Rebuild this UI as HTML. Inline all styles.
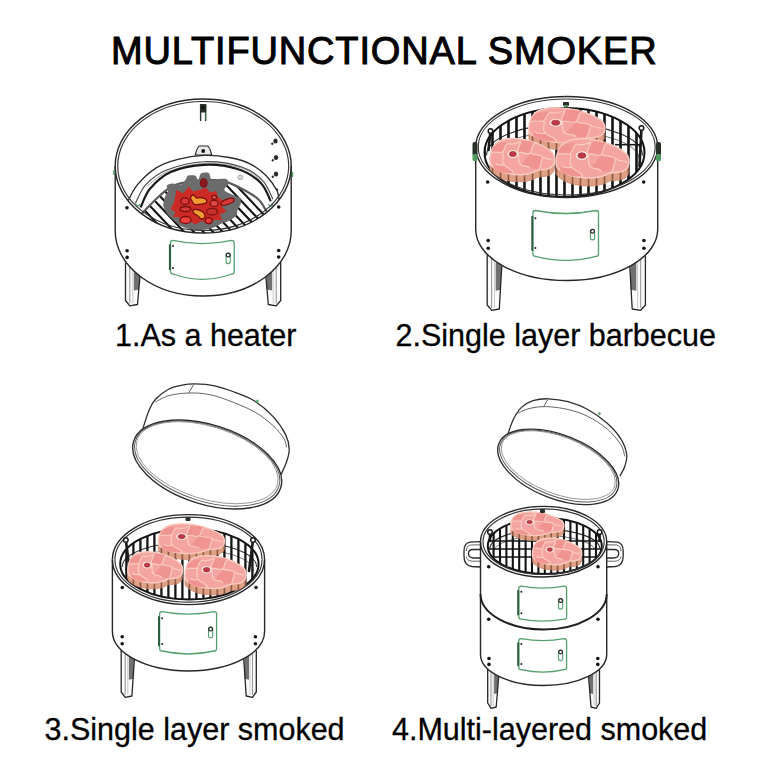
<!DOCTYPE html>
<html><head><meta charset="utf-8">
<style>
html,body{margin:0;padding:0;background:#fff;}
body{width:768px;height:768px;position:relative;overflow:hidden;font-family:"Liberation Sans",sans-serif;color:#000;}
.t{position:absolute;white-space:nowrap;line-height:1;}
#title{left:111px;top:32px;font-size:38px;letter-spacing:0.85px;-webkit-text-stroke:1px #000;}
.lab{font-size:30.5px;-webkit-text-stroke:0.3px #000;}
svg{position:absolute;left:0;top:0;}
</style></head><body>
<svg width="768" height="768" viewBox="0 0 768 768">
<path d="M125.5 262.5 L125.5 300.5 L129.8 305.8 L137.5 304.5 L140.0 275.8 Z" fill="#fbfbfb" stroke="none"/><path d="M133.9 272.8 L133.9 290.6 L139.1 289.6 L139.4 272.8 Z" fill="#707070"/><line x1="129.8" y1="264.5" x2="129.8" y2="303.5" stroke="#9a9a9a" stroke-width="1.1"/><line x1="132.8" y1="266.5" x2="132.8" y2="303.5" stroke="#c4c4c4" stroke-width="0.9"/><path d="M125.5 262.5 L125.5 300.5 L129.8 305.8 L137.5 304.5 L140.0 275.8" fill="none" stroke="#262626" stroke-width="1.3" stroke-linejoin="round"/><path d="M280.7 261.7 L280.7 300.5 L276.2 305.8 L268.3 304.5 L265.8 275.8 Z" fill="#fbfbfb" stroke="none"/><path d="M272.1 272.8 L272.1 290.6 L266.7 289.6 L266.4 272.8 Z" fill="#707070"/><line x1="276.2" y1="263.7" x2="276.2" y2="303.5" stroke="#9a9a9a" stroke-width="1.1"/><line x1="273.2" y1="265.7" x2="273.2" y2="303.5" stroke="#c4c4c4" stroke-width="0.9"/><path d="M280.7 261.7 L280.7 300.5 L276.2 305.8 L268.3 304.5 L265.8 275.8" fill="none" stroke="#262626" stroke-width="1.3" stroke-linejoin="round"/><path d="M115.2 166.0 A88.0 67.0 0 0 1 291.2 166.0" fill="none" stroke="#262626" stroke-width="1.4"/><path d="M117.7 166.0 A85.5 64.5 0 0 1 288.7 166.0" fill="none" stroke="#333" stroke-width="1.15"/><path d="M200.6 121 L200.6 105 L205.6 105 L205.6 121" fill="none" stroke="#333" stroke-width="1.4"/><path d="M205.9 106 L205.9 120" stroke="#5a9a6a" stroke-width="0.8"/><rect x="200" y="104" width="6.2" height="8.5" rx="1" fill="#2a2e2a"/><circle cx="203" cy="107.5" r="1.6" fill="#111"/><ellipse cx="275.5" cy="141" rx="2.2" ry="2.6" fill="#2a2a2a"/><path d="M273.0 143 L271.5 144.5" stroke="#2a2a2a" stroke-width="2"/><ellipse cx="276" cy="157.5" rx="2.2" ry="2.6" fill="#2a2a2a"/><path d="M273.5 159.5 L272 161.0" stroke="#2a2a2a" stroke-width="2"/><ellipse cx="276" cy="174" rx="2.2" ry="2.6" fill="#2a2a2a"/><path d="M273.5 176 L272 177.5" stroke="#2a2a2a" stroke-width="2"/><ellipse cx="276" cy="190.5" rx="2.2" ry="2.6" fill="#2a2a2a"/><path d="M273.5 192.5 L272 194.0" stroke="#2a2a2a" stroke-width="2"/><path d="M195.2 155 C196.5 150 197.5 146.5 199.5 146 L207.5 146 C209.5 146.5 210.5 150 211.7 155 Z" fill="#e8e8e8" stroke="#2a2a2a" stroke-width="1.2"/><circle cx="203.2" cy="151" r="1.9" fill="#111"/><path d="M128.0 201.0 C129.6 198.3 132.8 190.1 137.5 184.6 C142.2 179.1 149.7 172.1 156.2 167.9 C162.8 163.7 169.0 161.7 177.0 159.6 C185.0 157.5 195.5 155.8 204.2 155.4 C212.9 155.1 221.6 156.1 229.2 157.5 C236.8 158.9 243.8 160.6 250.0 163.8 C256.2 166.9 262.2 171.7 266.7 176.2 C271.2 180.8 274.9 186.7 277.0 190.8 C279.1 194.9 278.8 199.3 279.2 201.0 L204 240 Z" fill="#fff" stroke="none"/><path d="M128.0 201.0 C129.6 198.3 132.8 190.1 137.5 184.6 C142.2 179.1 149.7 172.1 156.2 167.9 C162.8 163.7 169.0 161.7 177.0 159.6 C185.0 157.5 195.5 155.8 204.2 155.4 C212.9 155.1 221.6 156.1 229.2 157.5 C236.8 158.9 243.8 160.6 250.0 163.8 C256.2 166.9 262.2 171.7 266.7 176.2 C271.2 180.8 274.9 186.7 277.0 190.8 C279.1 194.9 278.8 199.3 279.2 201.0" fill="none" stroke="#2a2a2a" stroke-width="1.3"/><path d="M135.4 203.3 C137.1 200.2 140.6 190.2 145.8 184.6 C151.0 179.0 157.0 173.8 166.7 170.0 C176.4 166.2 191.7 162.2 204.2 161.7 C216.7 161.2 232.0 163.8 241.7 166.9 C251.4 170.0 257.3 175.0 262.5 180.4 C267.7 185.8 271.2 196.1 272.9 199.2" fill="none" stroke="#444" stroke-width="1.1"/><path d="M147.0 186.2 C150.5 183.8 158.2 175.4 167.9 171.6 C177.6 167.8 192.9 163.8 205.4 163.3 C217.9 162.8 233.2 165.4 242.9 168.5 C252.6 171.6 260.2 179.8 263.7 182.0" fill="none" stroke="#888" stroke-width="0.8"/><path d="M140.6 207.5 C142.2 204.4 145.0 194.7 150.0 188.8 C155.0 182.8 161.8 176.0 170.8 172.0 C179.8 168.0 193.1 165.3 204.2 164.8 C215.3 164.3 228.1 166.1 237.5 169.0 C246.9 171.9 254.8 177.1 260.4 182.5 C265.9 187.9 269.1 198.1 270.8 201.2" fill="none" stroke="#1a1a1a" stroke-width="2.2"/><clipPath id="c1"><path d="M141.7 213.8 C144.5 211.0 152.8 201.8 158.3 197.0 C163.9 192.2 167.4 187.8 175.0 185.0 C182.6 182.2 195.7 180.6 204.0 180.0 C212.3 179.4 218.7 180.1 225.0 181.6 C231.3 183.1 236.1 185.8 241.7 188.8 C247.2 191.7 254.1 195.4 258.3 199.2 C262.5 203.0 265.3 209.6 266.7 211.7 L266.7 240 L141.7 240 Z"/></clipPath><g clip-path="url(#c1)"><line x1="48.8" y1="170" x2="128.8" y2="254.5" stroke="#111" stroke-width="2.1"/><line x1="58.4" y1="170" x2="138.4" y2="254.5" stroke="#111" stroke-width="2.1"/><line x1="68.0" y1="170" x2="148.0" y2="254.5" stroke="#111" stroke-width="2.1"/><line x1="77.6" y1="170" x2="157.6" y2="254.5" stroke="#111" stroke-width="2.1"/><line x1="87.2" y1="170" x2="167.2" y2="254.5" stroke="#111" stroke-width="2.1"/><line x1="96.8" y1="170" x2="176.8" y2="254.5" stroke="#111" stroke-width="2.1"/><line x1="106.4" y1="170" x2="186.4" y2="254.5" stroke="#111" stroke-width="2.1"/><line x1="116.0" y1="170" x2="196.0" y2="254.5" stroke="#111" stroke-width="2.1"/><line x1="125.6" y1="170" x2="205.6" y2="254.5" stroke="#111" stroke-width="2.1"/><line x1="135.2" y1="170" x2="215.2" y2="254.5" stroke="#111" stroke-width="2.1"/><line x1="144.8" y1="170" x2="224.8" y2="254.5" stroke="#111" stroke-width="2.1"/><line x1="154.4" y1="170" x2="234.4" y2="254.5" stroke="#111" stroke-width="2.1"/><line x1="164.0" y1="170" x2="244.0" y2="254.5" stroke="#111" stroke-width="2.1"/><line x1="173.6" y1="170" x2="253.6" y2="254.5" stroke="#111" stroke-width="2.1"/><line x1="183.2" y1="170" x2="263.2" y2="254.5" stroke="#111" stroke-width="2.1"/><line x1="192.8" y1="170" x2="272.8" y2="254.5" stroke="#111" stroke-width="2.1"/><line x1="202.4" y1="170" x2="282.4" y2="254.5" stroke="#111" stroke-width="2.1"/><line x1="212.0" y1="170" x2="292.0" y2="254.5" stroke="#111" stroke-width="2.1"/><line x1="221.6" y1="170" x2="301.6" y2="254.5" stroke="#111" stroke-width="2.1"/><line x1="231.2" y1="170" x2="311.2" y2="254.5" stroke="#111" stroke-width="2.1"/><line x1="240.8" y1="170" x2="320.8" y2="254.5" stroke="#111" stroke-width="2.1"/><line x1="250.4" y1="170" x2="330.4" y2="254.5" stroke="#111" stroke-width="2.1"/><line x1="260.0" y1="170" x2="340.0" y2="254.5" stroke="#111" stroke-width="2.1"/><line x1="269.6" y1="170" x2="349.6" y2="254.5" stroke="#111" stroke-width="2.1"/><line x1="279.2" y1="170" x2="359.2" y2="254.5" stroke="#111" stroke-width="2.1"/><line x1="288.8" y1="170" x2="368.8" y2="254.5" stroke="#111" stroke-width="2.1"/></g><path d="M141.7 213.8 C144.5 211.0 152.8 201.8 158.3 197.0 C163.9 192.2 167.4 187.8 175.0 185.0 C182.6 182.2 195.7 180.6 204.0 180.0 C212.3 179.4 218.7 180.1 225.0 181.6 C231.3 183.1 236.1 185.8 241.7 188.8 C247.2 191.7 254.1 195.4 258.3 199.2 C262.5 203.0 265.3 209.6 266.7 211.7" fill="none" stroke="#5a5a5a" stroke-width="2.2"/><circle cx="240.3" cy="177.4" r="2.4" fill="#d8d8d8" stroke="#9a9a9a" stroke-width="0.8"/><path d="M135.5 203 C136 206 139 207 140 204" fill="none" stroke="#48a060" stroke-width="1.1"/><path d="M268.5 204 C269 207 272 207 273 204" fill="none" stroke="#48a060" stroke-width="1.1"/><path d="M163.3 204.5 C163.4 202.9 164.3 198.7 165.0 196.8 C165.7 194.9 168.1 191.6 168.3 190.1 C168.5 188.6 166.1 186.6 166.6 185.7 C167.1 184.8 170.3 183.6 172.2 183.5 C174.1 183.4 179.1 185.3 181.0 184.6 C182.9 183.9 185.7 179.2 186.6 178.0 C187.5 176.8 186.5 176.0 187.7 175.7 C188.9 175.4 194.0 175.1 195.4 175.7 C196.8 176.3 197.5 180.5 198.2 180.2 C198.9 179.9 199.6 174.5 201.0 173.5 C202.4 172.5 207.3 172.1 208.7 173.0 C210.1 173.9 210.2 179.4 211.5 180.2 C212.8 181.0 216.7 179.2 218.7 179.0 C220.7 178.8 225.1 178.4 226.4 179.0 C227.7 179.6 228.9 182.0 228.6 183.5 C228.3 185.0 223.7 188.6 224.2 190.1 C224.7 191.6 229.9 193.6 232.0 194.6 C234.1 195.6 238.5 196.7 239.7 197.9 C240.9 199.1 241.1 201.8 240.8 203.4 C240.5 205.0 238.1 208.4 237.5 210.0 C236.9 211.6 237.6 214.1 236.4 215.6 C235.2 217.1 230.5 220.1 228.6 221.1 C226.7 222.1 224.1 222.4 222.0 223.3 C219.9 224.2 215.8 226.9 213.1 227.8 C210.4 228.7 204.9 229.8 202.0 230.0 C199.1 230.2 193.7 229.8 191.0 229.4 C188.3 229.0 184.3 227.8 182.1 226.7 C179.9 225.6 176.3 222.7 174.4 221.1 C172.5 219.5 169.0 216.1 167.7 214.5 C166.4 212.9 165.0 210.3 164.4 209.0 C163.8 207.7 163.2 206.1 163.3 204.5 Z" fill="#6c6c6c"/><path d="M171.0 209.0 C170.9 208.4 174.1 202.1 174.4 201.2 C174.7 200.3 176.2 190.5 176.6 190.1 C177.0 189.7 182.6 193.7 183.2 193.5 C183.8 193.3 188.3 186.9 188.8 186.8 C189.3 186.7 192.7 191.0 193.2 191.2 C193.7 191.4 198.0 190.3 198.7 190.1 C199.4 189.9 205.9 187.9 206.5 188.0 C207.1 188.1 209.3 192.1 209.8 192.3 C210.3 192.5 216.0 191.0 216.4 191.2 C216.8 191.4 217.2 196.3 217.6 196.8 C218.0 197.3 224.0 200.7 224.2 201.2 C224.4 201.7 221.9 206.2 222.0 206.7 C222.1 207.2 226.5 210.8 226.4 211.2 C226.3 211.6 220.0 214.1 219.8 214.5 C219.6 214.9 222.3 219.7 222.0 220.0 C221.7 220.3 214.9 219.8 214.2 220.0 C213.5 220.2 209.3 224.3 208.7 224.4 C208.1 224.5 202.7 221.1 202.0 221.1 C201.3 221.1 196.1 224.4 195.4 224.4 C194.7 224.4 189.6 221.2 188.8 221.1 C188.0 221.0 180.3 223.5 179.9 223.3 C179.5 223.1 181.3 218.1 181.0 217.8 C180.7 217.5 173.6 217.0 173.3 216.7 C173.0 216.4 175.6 212.7 175.5 212.3 C175.4 211.9 171.1 209.6 171.0 209.0 Z" fill="#cc2a24"/><g stroke="#7a1010" stroke-width="1.3"><ellipse cx="203.7" cy="183" rx="3.3" ry="4.2" fill="#8a1820"/><path d="M190.5 197.5 C190.8 196.5 192.5 194.9 193.5 195.0 C194.5 195.1 195.4 197.6 196.5 198.0 C197.6 198.4 198.5 197.3 200.0 197.5 C201.5 197.7 204.4 198.2 205.5 199.0 C206.6 199.8 207.5 201.6 206.5 202.5 C205.5 203.4 201.6 204.2 199.5 204.5 C197.4 204.8 195.2 204.6 194.0 204.0 C192.8 203.4 192.6 202.1 192.0 201.0 C191.4 199.9 190.2 198.5 190.5 197.5 Z" fill="#f09a30"/><path d="M193.0 210.5 C193.5 209.8 195.3 209.2 197.0 209.5 C198.7 209.8 201.7 210.8 203.0 212.0 C204.3 213.2 205.2 215.3 205.0 216.5 C204.8 217.7 202.7 219.1 201.5 219.0 C200.3 218.9 199.2 216.9 198.0 216.0 C196.8 215.1 194.8 214.4 194.0 213.5 C193.2 212.6 192.5 211.2 193.0 210.5 Z" fill="#f09a30"/><ellipse cx="184.9" cy="201.2" rx="4.2" ry="3.3" fill="#d83838"/><ellipse cx="185.5" cy="209" rx="5.3" ry="2.5" fill="#d83838"/><ellipse cx="185.5" cy="220" rx="5.5" ry="3.5" fill="#f04040"/><ellipse cx="208.7" cy="220.6" rx="3.5" ry="3" fill="#e83a3a"/><ellipse cx="212" cy="211.7" rx="5.5" ry="3.3" fill="#c83030"/><ellipse cx="214.2" cy="203.4" rx="4" ry="3" fill="#e04848"/><ellipse cx="214.2" cy="197.3" rx="2.5" ry="2" fill="#e05050"/><ellipse cx="227.5" cy="201.8" rx="7" ry="2.6" transform="rotate(-20 227.5 201.8)" fill="#d83838"/></g><path d="M115.2 166.0 A88.0 67.0 0 0 0 291.2 166.0 L291.2 231.0 A88.0 65 0 0 1 115.2 231.0 Z" fill="#fff" stroke="none"/><path d="M115.2 166.0 L115.2 231.0 A88.0 65 0 0 0 291.2 231.0 L291.2 166.0" fill="none" stroke="#262626" stroke-width="1.4"/><path d="M115.2 166.0 A88.0 67.0 0 0 0 291.2 166.0" fill="none" stroke="#262626" stroke-width="1.4"/><path d="M117.7 166.0 A85.5 64.5 0 0 0 288.7 166.0" fill="none" stroke="#333" stroke-width="1.15"/><path d="M114 170 L114 175" stroke="#48a060" stroke-width="1.5"/><path d="M292.5 172 L292.5 177" stroke="#48a060" stroke-width="1.5"/><path d="M170.5 242.8 Q170.5 240.3 173.0 240.3 Q202.35 246.9 231.7 240.3 Q234.2 240.3 234.2 242.8 L234.2 271.5 Q234.2 274.0 231.7 274.0 Q202.35 284.6 173.0 274.0 Q170.5 274.0 170.5 271.5 Z" fill="none" stroke="#55a06c" stroke-width="1.3"/><line x1="169.9" y1="244.3" x2="169.9" y2="270.0" stroke="#2a5e3c" stroke-width="2"/><circle cx="173.0" cy="246.0" r="1" fill="#222"/><circle cx="173.0" cy="267.9" r="1" fill="#222"/><rect x="226.1" y="253.15000000000003" width="4.2" height="10.5" rx="2.1" fill="none" stroke="#55a06c" stroke-width="1.1"/><circle cx="228.2" cy="254.95000000000005" r="1.9" fill="none" stroke="#2a2a2a" stroke-width="1.2"/><circle cx="127.0" cy="207.7" r="1.8" fill="#141414"/><circle cx="127.1" cy="250.8" r="1.8" fill="#141414"/><circle cx="127.1" cy="257.4" r="1.8" fill="#141414"/><circle cx="278.7" cy="207.0" r="1.8" fill="#141414"/><circle cx="278.7" cy="250.5" r="1.8" fill="#141414"/><circle cx="278.7" cy="257.0" r="1.8" fill="#141414"/><path d="M487.2 254.6 L487.2 305.0 L491.6 310.3 L499.3 309.0 L501.8 265.9 Z" fill="#fbfbfb" stroke="none"/><path d="M495.7 262.9 L495.7 290.7 L500.9 289.7 L501.2 262.9 Z" fill="#707070"/><line x1="491.6" y1="256.6" x2="491.6" y2="308.0" stroke="#9a9a9a" stroke-width="1.1"/><line x1="494.5" y1="258.6" x2="494.5" y2="308.0" stroke="#c4c4c4" stroke-width="0.9"/><path d="M487.2 254.6 L487.2 305.0 L491.6 310.3 L499.3 309.0 L501.8 265.9" fill="none" stroke="#262626" stroke-width="1.3" stroke-linejoin="round"/><path d="M645.4 255.6 L645.4 305.0 L640.7 310.3 L632.2 309.0 L629.8 266.3 Z" fill="#fbfbfb" stroke="none"/><path d="M636.3 263.3 L636.3 290.7 L630.6 289.7 L630.4 263.3 Z" fill="#707070"/><line x1="640.7" y1="257.6" x2="640.7" y2="308.0" stroke="#9a9a9a" stroke-width="1.1"/><line x1="637.6" y1="259.6" x2="637.6" y2="308.0" stroke="#c4c4c4" stroke-width="0.9"/><path d="M645.4 255.6 L645.4 305.0 L640.7 310.3 L632.2 309.0 L629.8 266.3" fill="none" stroke="#262626" stroke-width="1.3" stroke-linejoin="round"/><path d="M475.7 147.0 A91.0 50.5 0 0 1 657.7 147.0" fill="none" stroke="#262626" stroke-width="1.4"/><path d="M478.2 147.0 A88.5 48.0 0 0 1 655.2 147.0" fill="none" stroke="#333" stroke-width="1.15"/><clipPath id="c2"><ellipse cx="564.5" cy="152.5" rx="80" ry="44.5"/></clipPath><g clip-path="url(#c2)"><path d="M486.5 155.5 A78 31.1 0 0 1 642.5 155.5" fill="none" stroke="#333" stroke-width="1.1"/><path d="M489.5 159.5 A75 27.6 0 0 1 639.5 159.5" fill="none" stroke="#666" stroke-width="0.9"/><line x1="484.5" y1="108.0" x2="484.5" y2="197.0" stroke="#141414" stroke-width="2.6"/><line x1="492.5" y1="108.0" x2="492.5" y2="197.0" stroke="#141414" stroke-width="2.6"/><line x1="500.5" y1="108.0" x2="500.5" y2="197.0" stroke="#141414" stroke-width="2.6"/><line x1="508.5" y1="108.0" x2="508.5" y2="197.0" stroke="#141414" stroke-width="2.6"/><line x1="516.5" y1="108.0" x2="516.5" y2="197.0" stroke="#141414" stroke-width="2.6"/><line x1="524.5" y1="108.0" x2="524.5" y2="197.0" stroke="#141414" stroke-width="2.6"/><line x1="532.5" y1="108.0" x2="532.5" y2="197.0" stroke="#141414" stroke-width="2.6"/><line x1="540.5" y1="108.0" x2="540.5" y2="197.0" stroke="#141414" stroke-width="2.6"/><line x1="548.5" y1="108.0" x2="548.5" y2="197.0" stroke="#141414" stroke-width="2.6"/><line x1="556.5" y1="108.0" x2="556.5" y2="197.0" stroke="#141414" stroke-width="2.6"/><line x1="564.5" y1="108.0" x2="564.5" y2="197.0" stroke="#141414" stroke-width="2.6"/><line x1="572.5" y1="108.0" x2="572.5" y2="197.0" stroke="#141414" stroke-width="2.6"/><line x1="580.5" y1="108.0" x2="580.5" y2="197.0" stroke="#141414" stroke-width="2.6"/><line x1="588.5" y1="108.0" x2="588.5" y2="197.0" stroke="#141414" stroke-width="2.6"/><line x1="596.5" y1="108.0" x2="596.5" y2="197.0" stroke="#141414" stroke-width="2.6"/><line x1="604.5" y1="108.0" x2="604.5" y2="197.0" stroke="#141414" stroke-width="2.6"/><line x1="612.5" y1="108.0" x2="612.5" y2="197.0" stroke="#141414" stroke-width="2.6"/><line x1="620.5" y1="108.0" x2="620.5" y2="197.0" stroke="#141414" stroke-width="2.6"/><line x1="628.5" y1="108.0" x2="628.5" y2="197.0" stroke="#141414" stroke-width="2.6"/><line x1="636.5" y1="108.0" x2="636.5" y2="197.0" stroke="#141414" stroke-width="2.6"/></g><ellipse cx="564.5" cy="152.5" rx="80" ry="44.5" fill="none" stroke="#141414" stroke-width="2.0"/><path d="M490.5 131 L488.5 150" stroke="#1a1a1a" stroke-width="2.6" stroke-linecap="round"/><circle cx="490.5" cy="131" r="2.3" fill="#fff" stroke="#1a1a1a" stroke-width="1.5"/><path d="M641.5 128 L639.5 166" stroke="#1a1a1a" stroke-width="2.6" stroke-linecap="round"/><circle cx="641.5" cy="128" r="2.3" fill="#fff" stroke="#1a1a1a" stroke-width="1.5"/><path d="M615 144.7 L640 144.7" stroke="#1a1a1a" stroke-width="1.6"/><g transform="translate(528.8,107.8) scale(0.7600,0.6364)"><path d="M0.0 33.8 C0.0 30.0 0.7 23.2 2.4 18.6 C4.1 14.0 6.5 9.3 10.2 6.3 C13.9 3.3 19.2 1.8 24.5 0.7 C29.8 -0.4 35.7 -0.4 41.7 0.0 C47.7 0.4 54.0 1.2 60.6 3.0 C67.2 4.8 75.2 7.5 81.2 10.6 C87.2 13.7 93.7 18.1 96.8 21.4 C99.9 24.7 99.7 27.4 100.0 30.5 C100.3 33.5 100.0 37.2 98.4 39.7 C96.8 42.2 93.9 44.5 90.5 45.8 C87.1 47.1 81.1 46.9 78.0 47.4 C74.9 47.9 73.8 48.1 71.7 48.9 C69.6 49.7 69.0 51.0 65.3 52.0 C61.6 53.0 55.6 54.8 49.6 55.0 C43.6 55.2 35.2 54.5 29.2 53.5 C23.2 52.5 18.0 50.9 13.5 48.9 C9.0 46.9 4.7 43.7 2.4 41.2 C0.1 38.7 0.0 37.6 0.0 33.8 Z" transform="translate(0,11.00)" fill="#dfa084" stroke="#c98a70" stroke-width="1.05"/><path d="M0.3 34 L0.3 45.0 L99.7 42.0 L99.7 31 Z" fill="#dfa084"/></g><clipPath id="c3"><path d="M0.0 33.8 C0.0 30.0 0.7 23.2 2.4 18.6 C4.1 14.0 6.5 9.3 10.2 6.3 C13.9 3.3 19.2 1.8 24.5 0.7 C29.8 -0.4 35.7 -0.4 41.7 0.0 C47.7 0.4 54.0 1.2 60.6 3.0 C67.2 4.8 75.2 7.5 81.2 10.6 C87.2 13.7 93.7 18.1 96.8 21.4 C99.9 24.7 99.7 27.4 100.0 30.5 C100.3 33.5 100.0 37.2 98.4 39.7 C96.8 42.2 93.9 44.5 90.5 45.8 C87.1 47.1 81.1 46.9 78.0 47.4 C74.9 47.9 73.8 48.1 71.7 48.9 C69.6 49.7 69.0 51.0 65.3 52.0 C61.6 53.0 55.6 54.8 49.6 55.0 C43.6 55.2 35.2 54.5 29.2 53.5 C23.2 52.5 18.0 50.9 13.5 48.9 C9.0 46.9 4.7 43.7 2.4 41.2 C0.1 38.7 0.0 37.6 0.0 33.8 Z" transform="translate(528.8,107.8) scale(0.7600,0.6364) translate(0,11.00)"/></clipPath><g clip-path="url(#c3)"><line x1="532.5" y1="107.8" x2="532.5" y2="149.8" stroke="#6a3a2c" stroke-width="1.6" opacity="0.7"/><line x1="540.5" y1="107.8" x2="540.5" y2="149.8" stroke="#6a3a2c" stroke-width="1.6" opacity="0.7"/><line x1="548.5" y1="107.8" x2="548.5" y2="149.8" stroke="#6a3a2c" stroke-width="1.6" opacity="0.7"/><line x1="556.5" y1="107.8" x2="556.5" y2="149.8" stroke="#6a3a2c" stroke-width="1.6" opacity="0.7"/><line x1="564.5" y1="107.8" x2="564.5" y2="149.8" stroke="#6a3a2c" stroke-width="1.6" opacity="0.7"/><line x1="572.5" y1="107.8" x2="572.5" y2="149.8" stroke="#6a3a2c" stroke-width="1.6" opacity="0.7"/><line x1="580.5" y1="107.8" x2="580.5" y2="149.8" stroke="#6a3a2c" stroke-width="1.6" opacity="0.7"/><line x1="588.5" y1="107.8" x2="588.5" y2="149.8" stroke="#6a3a2c" stroke-width="1.6" opacity="0.7"/><line x1="596.5" y1="107.8" x2="596.5" y2="149.8" stroke="#6a3a2c" stroke-width="1.6" opacity="0.7"/><line x1="604.5" y1="107.8" x2="604.5" y2="149.8" stroke="#6a3a2c" stroke-width="1.6" opacity="0.7"/></g><g transform="translate(528.8,107.8) scale(0.7600,0.6364)"><path d="M0.0 33.8 C0.0 30.0 0.7 23.2 2.4 18.6 C4.1 14.0 6.5 9.3 10.2 6.3 C13.9 3.3 19.2 1.8 24.5 0.7 C29.8 -0.4 35.7 -0.4 41.7 0.0 C47.7 0.4 54.0 1.2 60.6 3.0 C67.2 4.8 75.2 7.5 81.2 10.6 C87.2 13.7 93.7 18.1 96.8 21.4 C99.9 24.7 99.7 27.4 100.0 30.5 C100.3 33.5 100.0 37.2 98.4 39.7 C96.8 42.2 93.9 44.5 90.5 45.8 C87.1 47.1 81.1 46.9 78.0 47.4 C74.9 47.9 73.8 48.1 71.7 48.9 C69.6 49.7 69.0 51.0 65.3 52.0 C61.6 53.0 55.6 54.8 49.6 55.0 C43.6 55.2 35.2 54.5 29.2 53.5 C23.2 52.5 18.0 50.9 13.5 48.9 C9.0 46.9 4.7 43.7 2.4 41.2 C0.1 38.7 0.0 37.6 0.0 33.8 Z" fill="#f4a5a1" stroke="#f8cabe" stroke-width="2.11"/><g fill="#f09290" opacity="0.85"><path d="M6 12 C12 6 22 5 28 7 C23 11 25 17 20 20 C14 24 9 18 3 22 C3 18 4 14 6 12 Z"/><path d="M48 4 C56 2 64 4 70 6 C65 10 67 18 62 22 C56 26 50 18 44 22 C44 14 46 8 48 4 Z"/><path d="M62 22 C70 26 76 22 82 28 C78 36 80 42 76 46 C70 46 64 46 62 46 C60 40 54 44 48 40 C54 34 58 28 62 22 Z"/><path d="M8 38 C12 42 16 40 22 40 C26 46 32 46 36 52 C24 54 12 52 6 46 C5 42 6 40 8 38 Z"/></g><path d="M3 22 C10 18 14 24 20 20 C24 16 22 10 28 7 M20 20 C22 28 16 34 22 40 C26 46 34 45 37 53 M8 38 C12 42 16 40 22 40 M44 22 C50 18 56 26 62 22 C66 18 64 10 70 6 M44 22 C46 30 42 36 48 40 C54 44 60 40 62 46 M62 22 C70 26 76 22 82 28 C86 32 92 30 97 33 M82 28 C78 36 80 42 76 46 M28 7 C34 10 40 8 48 4 M44 22 C40 18 46 12 48 4" fill="none" stroke="#f8cbbf" stroke-width="1.64"/><ellipse cx="35.4" cy="23.4" rx="8.4" ry="6.2" fill="#fbe3dc"/><ellipse cx="35.4" cy="23.4" rx="5.4" ry="3.9" fill="#c03a48" stroke="#8e2232" stroke-width="0.9"/></g><g transform="translate(490.0,138.7) scale(0.6450,0.6545)"><path d="M0.0 33.8 C0.0 30.0 0.7 23.2 2.4 18.6 C4.1 14.0 6.5 9.3 10.2 6.3 C13.9 3.3 19.2 1.8 24.5 0.7 C29.8 -0.4 35.7 -0.4 41.7 0.0 C47.7 0.4 54.0 1.2 60.6 3.0 C67.2 4.8 75.2 7.5 81.2 10.6 C87.2 13.7 93.7 18.1 96.8 21.4 C99.9 24.7 99.7 27.4 100.0 30.5 C100.3 33.5 100.0 37.2 98.4 39.7 C96.8 42.2 93.9 44.5 90.5 45.8 C87.1 47.1 81.1 46.9 78.0 47.4 C74.9 47.9 73.8 48.1 71.7 48.9 C69.6 49.7 69.0 51.0 65.3 52.0 C61.6 53.0 55.6 54.8 49.6 55.0 C43.6 55.2 35.2 54.5 29.2 53.5 C23.2 52.5 18.0 50.9 13.5 48.9 C9.0 46.9 4.7 43.7 2.4 41.2 C0.1 38.7 0.0 37.6 0.0 33.8 Z" transform="translate(0,10.69)" fill="#dfa084" stroke="#c98a70" stroke-width="1.24"/><path d="M0.3 34 L0.3 44.7 L99.7 41.7 L99.7 31 Z" fill="#dfa084"/></g><clipPath id="c4"><path d="M0.0 33.8 C0.0 30.0 0.7 23.2 2.4 18.6 C4.1 14.0 6.5 9.3 10.2 6.3 C13.9 3.3 19.2 1.8 24.5 0.7 C29.8 -0.4 35.7 -0.4 41.7 0.0 C47.7 0.4 54.0 1.2 60.6 3.0 C67.2 4.8 75.2 7.5 81.2 10.6 C87.2 13.7 93.7 18.1 96.8 21.4 C99.9 24.7 99.7 27.4 100.0 30.5 C100.3 33.5 100.0 37.2 98.4 39.7 C96.8 42.2 93.9 44.5 90.5 45.8 C87.1 47.1 81.1 46.9 78.0 47.4 C74.9 47.9 73.8 48.1 71.7 48.9 C69.6 49.7 69.0 51.0 65.3 52.0 C61.6 53.0 55.6 54.8 49.6 55.0 C43.6 55.2 35.2 54.5 29.2 53.5 C23.2 52.5 18.0 50.9 13.5 48.9 C9.0 46.9 4.7 43.7 2.4 41.2 C0.1 38.7 0.0 37.6 0.0 33.8 Z" transform="translate(490.0,138.7) scale(0.6450,0.6545) translate(0,10.69)"/></clipPath><g clip-path="url(#c4)"><line x1="492.5" y1="138.7" x2="492.5" y2="181.7" stroke="#6a3a2c" stroke-width="1.6" opacity="0.7"/><line x1="500.5" y1="138.7" x2="500.5" y2="181.7" stroke="#6a3a2c" stroke-width="1.6" opacity="0.7"/><line x1="508.5" y1="138.7" x2="508.5" y2="181.7" stroke="#6a3a2c" stroke-width="1.6" opacity="0.7"/><line x1="516.5" y1="138.7" x2="516.5" y2="181.7" stroke="#6a3a2c" stroke-width="1.6" opacity="0.7"/><line x1="524.5" y1="138.7" x2="524.5" y2="181.7" stroke="#6a3a2c" stroke-width="1.6" opacity="0.7"/><line x1="532.5" y1="138.7" x2="532.5" y2="181.7" stroke="#6a3a2c" stroke-width="1.6" opacity="0.7"/><line x1="540.5" y1="138.7" x2="540.5" y2="181.7" stroke="#6a3a2c" stroke-width="1.6" opacity="0.7"/><line x1="548.5" y1="138.7" x2="548.5" y2="181.7" stroke="#6a3a2c" stroke-width="1.6" opacity="0.7"/></g><g transform="translate(490.0,138.7) scale(0.6450,0.6545)"><path d="M0.0 33.8 C0.0 30.0 0.7 23.2 2.4 18.6 C4.1 14.0 6.5 9.3 10.2 6.3 C13.9 3.3 19.2 1.8 24.5 0.7 C29.8 -0.4 35.7 -0.4 41.7 0.0 C47.7 0.4 54.0 1.2 60.6 3.0 C67.2 4.8 75.2 7.5 81.2 10.6 C87.2 13.7 93.7 18.1 96.8 21.4 C99.9 24.7 99.7 27.4 100.0 30.5 C100.3 33.5 100.0 37.2 98.4 39.7 C96.8 42.2 93.9 44.5 90.5 45.8 C87.1 47.1 81.1 46.9 78.0 47.4 C74.9 47.9 73.8 48.1 71.7 48.9 C69.6 49.7 69.0 51.0 65.3 52.0 C61.6 53.0 55.6 54.8 49.6 55.0 C43.6 55.2 35.2 54.5 29.2 53.5 C23.2 52.5 18.0 50.9 13.5 48.9 C9.0 46.9 4.7 43.7 2.4 41.2 C0.1 38.7 0.0 37.6 0.0 33.8 Z" fill="#f4a5a1" stroke="#f8cabe" stroke-width="2.48"/><g fill="#f09290" opacity="0.85"><path d="M6 12 C12 6 22 5 28 7 C23 11 25 17 20 20 C14 24 9 18 3 22 C3 18 4 14 6 12 Z"/><path d="M48 4 C56 2 64 4 70 6 C65 10 67 18 62 22 C56 26 50 18 44 22 C44 14 46 8 48 4 Z"/><path d="M62 22 C70 26 76 22 82 28 C78 36 80 42 76 46 C70 46 64 46 62 46 C60 40 54 44 48 40 C54 34 58 28 62 22 Z"/><path d="M8 38 C12 42 16 40 22 40 C26 46 32 46 36 52 C24 54 12 52 6 46 C5 42 6 40 8 38 Z"/></g><path d="M3 22 C10 18 14 24 20 20 C24 16 22 10 28 7 M20 20 C22 28 16 34 22 40 C26 46 34 45 37 53 M8 38 C12 42 16 40 22 40 M44 22 C50 18 56 26 62 22 C66 18 64 10 70 6 M44 22 C46 30 42 36 48 40 C54 44 60 40 62 46 M62 22 C70 26 76 22 82 28 C86 32 92 30 97 33 M82 28 C78 36 80 42 76 46 M28 7 C34 10 40 8 48 4 M44 22 C40 18 46 12 48 4" fill="none" stroke="#f8cbbf" stroke-width="1.94"/><ellipse cx="35.4" cy="23.4" rx="8.4" ry="6.2" fill="#fbe3dc"/><ellipse cx="35.4" cy="23.4" rx="5.4" ry="3.9" fill="#c03a48" stroke="#8e2232" stroke-width="0.9"/></g><g transform="translate(556.0,139.0) scale(0.7300,0.7091)"><path d="M0.0 33.8 C0.0 30.0 0.7 23.2 2.4 18.6 C4.1 14.0 6.5 9.3 10.2 6.3 C13.9 3.3 19.2 1.8 24.5 0.7 C29.8 -0.4 35.7 -0.4 41.7 0.0 C47.7 0.4 54.0 1.2 60.6 3.0 C67.2 4.8 75.2 7.5 81.2 10.6 C87.2 13.7 93.7 18.1 96.8 21.4 C99.9 24.7 99.7 27.4 100.0 30.5 C100.3 33.5 100.0 37.2 98.4 39.7 C96.8 42.2 93.9 44.5 90.5 45.8 C87.1 47.1 81.1 46.9 78.0 47.4 C74.9 47.9 73.8 48.1 71.7 48.9 C69.6 49.7 69.0 51.0 65.3 52.0 C61.6 53.0 55.6 54.8 49.6 55.0 C43.6 55.2 35.2 54.5 29.2 53.5 C23.2 52.5 18.0 50.9 13.5 48.9 C9.0 46.9 4.7 43.7 2.4 41.2 C0.1 38.7 0.0 37.6 0.0 33.8 Z" transform="translate(0,11.28)" fill="#dfa084" stroke="#c98a70" stroke-width="1.10"/><path d="M0.3 34 L0.3 45.3 L99.7 42.3 L99.7 31 Z" fill="#dfa084"/></g><clipPath id="c5"><path d="M0.0 33.8 C0.0 30.0 0.7 23.2 2.4 18.6 C4.1 14.0 6.5 9.3 10.2 6.3 C13.9 3.3 19.2 1.8 24.5 0.7 C29.8 -0.4 35.7 -0.4 41.7 0.0 C47.7 0.4 54.0 1.2 60.6 3.0 C67.2 4.8 75.2 7.5 81.2 10.6 C87.2 13.7 93.7 18.1 96.8 21.4 C99.9 24.7 99.7 27.4 100.0 30.5 C100.3 33.5 100.0 37.2 98.4 39.7 C96.8 42.2 93.9 44.5 90.5 45.8 C87.1 47.1 81.1 46.9 78.0 47.4 C74.9 47.9 73.8 48.1 71.7 48.9 C69.6 49.7 69.0 51.0 65.3 52.0 C61.6 53.0 55.6 54.8 49.6 55.0 C43.6 55.2 35.2 54.5 29.2 53.5 C23.2 52.5 18.0 50.9 13.5 48.9 C9.0 46.9 4.7 43.7 2.4 41.2 C0.1 38.7 0.0 37.6 0.0 33.8 Z" transform="translate(556.0,139.0) scale(0.7300,0.7091) translate(0,11.28)"/></clipPath><g clip-path="url(#c5)"><line x1="556.5" y1="139" x2="556.5" y2="186" stroke="#6a3a2c" stroke-width="1.6" opacity="0.7"/><line x1="564.5" y1="139" x2="564.5" y2="186" stroke="#6a3a2c" stroke-width="1.6" opacity="0.7"/><line x1="572.5" y1="139" x2="572.5" y2="186" stroke="#6a3a2c" stroke-width="1.6" opacity="0.7"/><line x1="580.5" y1="139" x2="580.5" y2="186" stroke="#6a3a2c" stroke-width="1.6" opacity="0.7"/><line x1="588.5" y1="139" x2="588.5" y2="186" stroke="#6a3a2c" stroke-width="1.6" opacity="0.7"/><line x1="596.5" y1="139" x2="596.5" y2="186" stroke="#6a3a2c" stroke-width="1.6" opacity="0.7"/><line x1="604.5" y1="139" x2="604.5" y2="186" stroke="#6a3a2c" stroke-width="1.6" opacity="0.7"/><line x1="612.5" y1="139" x2="612.5" y2="186" stroke="#6a3a2c" stroke-width="1.6" opacity="0.7"/><line x1="620.5" y1="139" x2="620.5" y2="186" stroke="#6a3a2c" stroke-width="1.6" opacity="0.7"/><line x1="628.5" y1="139" x2="628.5" y2="186" stroke="#6a3a2c" stroke-width="1.6" opacity="0.7"/></g><g transform="translate(556.0,139.0) scale(0.7300,0.7091)"><path d="M0.0 33.8 C0.0 30.0 0.7 23.2 2.4 18.6 C4.1 14.0 6.5 9.3 10.2 6.3 C13.9 3.3 19.2 1.8 24.5 0.7 C29.8 -0.4 35.7 -0.4 41.7 0.0 C47.7 0.4 54.0 1.2 60.6 3.0 C67.2 4.8 75.2 7.5 81.2 10.6 C87.2 13.7 93.7 18.1 96.8 21.4 C99.9 24.7 99.7 27.4 100.0 30.5 C100.3 33.5 100.0 37.2 98.4 39.7 C96.8 42.2 93.9 44.5 90.5 45.8 C87.1 47.1 81.1 46.9 78.0 47.4 C74.9 47.9 73.8 48.1 71.7 48.9 C69.6 49.7 69.0 51.0 65.3 52.0 C61.6 53.0 55.6 54.8 49.6 55.0 C43.6 55.2 35.2 54.5 29.2 53.5 C23.2 52.5 18.0 50.9 13.5 48.9 C9.0 46.9 4.7 43.7 2.4 41.2 C0.1 38.7 0.0 37.6 0.0 33.8 Z" fill="#f4a5a1" stroke="#f8cabe" stroke-width="2.19"/><g fill="#f09290" opacity="0.85"><path d="M6 12 C12 6 22 5 28 7 C23 11 25 17 20 20 C14 24 9 18 3 22 C3 18 4 14 6 12 Z"/><path d="M48 4 C56 2 64 4 70 6 C65 10 67 18 62 22 C56 26 50 18 44 22 C44 14 46 8 48 4 Z"/><path d="M62 22 C70 26 76 22 82 28 C78 36 80 42 76 46 C70 46 64 46 62 46 C60 40 54 44 48 40 C54 34 58 28 62 22 Z"/><path d="M8 38 C12 42 16 40 22 40 C26 46 32 46 36 52 C24 54 12 52 6 46 C5 42 6 40 8 38 Z"/></g><path d="M3 22 C10 18 14 24 20 20 C24 16 22 10 28 7 M20 20 C22 28 16 34 22 40 C26 46 34 45 37 53 M8 38 C12 42 16 40 22 40 M44 22 C50 18 56 26 62 22 C66 18 64 10 70 6 M44 22 C46 30 42 36 48 40 C54 44 60 40 62 46 M62 22 C70 26 76 22 82 28 C86 32 92 30 97 33 M82 28 C78 36 80 42 76 46 M28 7 C34 10 40 8 48 4 M44 22 C40 18 46 12 48 4" fill="none" stroke="#f8cbbf" stroke-width="1.71"/><ellipse cx="35.4" cy="23.4" rx="8.4" ry="6.2" fill="#fbe3dc"/><ellipse cx="35.4" cy="23.4" rx="5.4" ry="3.9" fill="#c03a48" stroke="#8e2232" stroke-width="0.9"/></g><path d="M475.7 147.0 A91.0 50.5 0 0 0 657.7 147.0 L657.7 229.5 A91.0 51 0 0 1 475.7 229.5 Z" fill="#fff" stroke="none"/><path d="M475.7 147.0 L475.7 229.5 A91.0 51 0 0 0 657.7 229.5 L657.7 147.0" fill="none" stroke="#262626" stroke-width="1.4"/><path d="M475.7 147.0 A91.0 50.5 0 0 0 657.7 147.0" fill="none" stroke="#262626" stroke-width="1.4"/><path d="M478.2 147.0 A88.5 48.0 0 0 0 655.2 147.0" fill="none" stroke="#333" stroke-width="1.15"/><g fill="#263028"><rect x="472.5" y="142" width="5" height="14" rx="2"/><rect x="656" y="142" width="5" height="14" rx="2"/><rect x="563" y="102" width="6" height="4" rx="1"/></g><g fill="#4f9a62"><rect x="472.5" y="154" width="5" height="7" rx="1.5"/><rect x="656" y="154" width="5" height="7" rx="1.5"/><rect x="564" y="105" width="4" height="2"/></g><path d="M532.9 213.0 Q532.9 210.5 535.4 210.5 Q565.6999999999999 216.5 596.0 210.5 Q598.5 210.5 598.5 213.0 L598.5 253.8 Q598.5 256.3 596.0 256.3 Q565.6999999999999 264.3 535.4 256.3 Q532.9 256.3 532.9 253.8 Z" fill="none" stroke="#55a06c" stroke-width="1.3"/><line x1="532.3" y1="216.0" x2="532.3" y2="250.8" stroke="#2a5e3c" stroke-width="2"/><circle cx="535.4" cy="218.3" r="1" fill="#222"/><circle cx="535.4" cy="248.1" r="1" fill="#222"/><rect x="590.4" y="229.4" width="4.2" height="10.5" rx="2.1" fill="none" stroke="#55a06c" stroke-width="1.1"/><circle cx="592.5" cy="231.20000000000002" r="1.9" fill="none" stroke="#2a2a2a" stroke-width="1.2"/><circle cx="487.7" cy="182.0" r="1.8" fill="#141414"/><circle cx="643.7" cy="182.0" r="1.8" fill="#141414"/><circle cx="488.2" cy="240.5" r="1.8" fill="#141414"/><circle cx="488.2" cy="248.3" r="1.8" fill="#141414"/><circle cx="643.9" cy="240.5" r="1.8" fill="#141414"/><circle cx="643.9" cy="248.3" r="1.8" fill="#141414"/><path d="M121.2 650.0 L121.2 692.0 L125.2 697.3 L131.9 696.0 L134.4 659.3 Z" fill="#fbfbfb" stroke="none"/><path d="M128.9 656.3 L128.9 679.8 L133.5 678.8 L133.8 656.3 Z" fill="#707070"/><line x1="125.2" y1="652.0" x2="125.2" y2="695.0" stroke="#9a9a9a" stroke-width="1.1"/><line x1="127.8" y1="654.0" x2="127.8" y2="695.0" stroke="#c4c4c4" stroke-width="0.9"/><path d="M121.2 650.0 L121.2 692.0 L125.2 697.3 L131.9 696.0 L134.4 659.3" fill="none" stroke="#262626" stroke-width="1.3" stroke-linejoin="round"/><path d="M256.3 650.5 L256.3 692.0 L252.5 697.3 L246.2 696.0 L243.7 658.3 Z" fill="#fbfbfb" stroke="none"/><path d="M249.0 655.3 L249.0 679.8 L244.6 678.8 L244.3 655.3 Z" fill="#707070"/><line x1="252.5" y1="652.5" x2="252.5" y2="695.0" stroke="#9a9a9a" stroke-width="1.1"/><line x1="250.0" y1="654.5" x2="250.0" y2="695.0" stroke="#c4c4c4" stroke-width="0.9"/><path d="M256.3 650.5 L256.3 692.0 L252.5 697.3 L246.2 696.0 L243.7 658.3" fill="none" stroke="#262626" stroke-width="1.3" stroke-linejoin="round"/><path d="M143.0 428.1 C144.1 425.0 147.3 414.1 149.5 409.2 C151.7 404.4 152.8 402.2 156.0 398.8 C159.2 395.4 164.7 391.3 169.0 389.0 C173.3 386.7 177.7 386.1 182.0 385.2 C186.3 384.3 189.6 383.8 195.0 383.9 C200.4 384.0 207.7 384.3 214.6 385.8 C221.5 387.3 229.7 390.2 236.4 392.8 C243.1 395.3 248.5 397.1 254.6 401.0 C260.7 404.9 267.7 410.8 272.9 416.4 C278.1 422.0 282.9 429.1 285.6 434.6 C288.3 440.1 289.1 444.6 289.2 449.2 C289.4 453.8 287.9 457.8 286.5 462.0 C285.1 466.2 281.9 472.6 281.0 474.7 L207.2 464.5 Z" fill="#fff" stroke="none"/><path d="M143.0 428.1 C144.1 425.0 147.3 414.1 149.5 409.2 C151.7 404.4 152.8 402.2 156.0 398.8 C159.2 395.4 164.7 391.3 169.0 389.0 C173.3 386.7 177.7 386.1 182.0 385.2 C186.3 384.3 189.6 383.8 195.0 383.9 C200.4 384.0 207.7 384.3 214.6 385.8 C221.5 387.3 229.7 390.2 236.4 392.8 C243.1 395.3 248.5 397.1 254.6 401.0 C260.7 404.9 267.7 410.8 272.9 416.4 C278.1 422.0 282.9 429.1 285.6 434.6 C288.3 440.1 289.1 444.6 289.2 449.2 C289.4 453.8 287.9 457.8 286.5 462.0 C285.1 466.2 281.9 472.6 281.0 474.7" fill="none" stroke="#2e2e2e" stroke-width="1.3"/><path d="M155.4 402.0 C157.7 400.9 163.5 397.1 169.0 395.6 C174.5 394.1 182.1 393.2 188.6 393.0 C195.1 392.8 201.6 393.1 208.0 394.3 C214.4 395.5 219.5 397.1 227.3 400.0 C235.1 402.9 247.0 407.6 254.6 411.9 C262.2 416.1 268.0 421.1 272.9 425.5 C277.8 429.9 281.5 434.7 283.8 438.3 C286.1 441.9 286.1 445.9 286.5 447.4" fill="none" stroke="#666" stroke-width="1"/><line x1="188.6" y1="393.0" x2="193.8" y2="384.5" stroke="#555" stroke-width="0.9"/><circle cx="257.4" cy="401.0" r="1.5" fill="#6fb37f"/><ellipse cx="207.2" cy="464.5" rx="77.1" ry="39.7" transform="rotate(17.6 207.2 464.5)" fill="#fff" stroke="#2a2a2a" stroke-width="1.35"/><ellipse cx="206.9" cy="463.6" rx="75.2" ry="37.8" transform="rotate(17.6 207.2 464.5)" fill="none" stroke="#555" stroke-width="0.95"/><ellipse cx="206.6" cy="462.8" rx="73.6" ry="36.2" transform="rotate(17.6 207.2 464.5)" fill="none" stroke="#8a8a8a" stroke-width="0.8"/><path d="M112.4 559.6 A76.1 45.0 0 0 1 264.6 559.6" fill="none" stroke="#262626" stroke-width="1.4"/><path d="M114.9 559.6 A73.6 42.5 0 0 1 262.1 559.6" fill="none" stroke="#333" stroke-width="1.15"/><clipPath id="c6"><ellipse cx="189.4" cy="564.0" rx="69.2" ry="35.5"/></clipPath><g clip-path="url(#c6)"><path d="M122.2 567.0 A67.2 24.8 0 0 1 256.6 567.0" fill="none" stroke="#333" stroke-width="1.1"/><path d="M125.2 571.0 A64.2 22.0 0 0 1 253.60000000000002 571.0" fill="none" stroke="#666" stroke-width="0.9"/><line x1="126.4" y1="528.5" x2="126.4" y2="599.5" stroke="#141414" stroke-width="2.3"/><line x1="133.4" y1="528.5" x2="133.4" y2="599.5" stroke="#141414" stroke-width="2.3"/><line x1="140.4" y1="528.5" x2="140.4" y2="599.5" stroke="#141414" stroke-width="2.3"/><line x1="147.4" y1="528.5" x2="147.4" y2="599.5" stroke="#141414" stroke-width="2.3"/><line x1="154.4" y1="528.5" x2="154.4" y2="599.5" stroke="#141414" stroke-width="2.3"/><line x1="161.4" y1="528.5" x2="161.4" y2="599.5" stroke="#141414" stroke-width="2.3"/><line x1="168.4" y1="528.5" x2="168.4" y2="599.5" stroke="#141414" stroke-width="2.3"/><line x1="175.4" y1="528.5" x2="175.4" y2="599.5" stroke="#141414" stroke-width="2.3"/><line x1="182.4" y1="528.5" x2="182.4" y2="599.5" stroke="#141414" stroke-width="2.3"/><line x1="189.4" y1="528.5" x2="189.4" y2="599.5" stroke="#141414" stroke-width="2.3"/><line x1="196.4" y1="528.5" x2="196.4" y2="599.5" stroke="#141414" stroke-width="2.3"/><line x1="203.4" y1="528.5" x2="203.4" y2="599.5" stroke="#141414" stroke-width="2.3"/><line x1="210.4" y1="528.5" x2="210.4" y2="599.5" stroke="#141414" stroke-width="2.3"/><line x1="217.4" y1="528.5" x2="217.4" y2="599.5" stroke="#141414" stroke-width="2.3"/><line x1="224.4" y1="528.5" x2="224.4" y2="599.5" stroke="#141414" stroke-width="2.3"/><line x1="231.4" y1="528.5" x2="231.4" y2="599.5" stroke="#141414" stroke-width="2.3"/><line x1="238.4" y1="528.5" x2="238.4" y2="599.5" stroke="#141414" stroke-width="2.3"/><line x1="245.4" y1="528.5" x2="245.4" y2="599.5" stroke="#141414" stroke-width="2.3"/><line x1="252.4" y1="528.5" x2="252.4" y2="599.5" stroke="#141414" stroke-width="2.3"/></g><ellipse cx="189.4" cy="564.0" rx="69.2" ry="35.5" fill="none" stroke="#141414" stroke-width="2.0"/><path d="M253 540 L249 571" stroke="#1a1a1a" stroke-width="2.6" stroke-linecap="round"/><circle cx="253" cy="540" r="2.3" fill="#fff" stroke="#1a1a1a" stroke-width="1.5"/><path d="M125.8 540 L129.8 571" stroke="#1a1a1a" stroke-width="2.6" stroke-linecap="round"/><circle cx="125.8" cy="540" r="2.3" fill="#fff" stroke="#1a1a1a" stroke-width="1.5"/><g transform="translate(158.3,524.0) scale(0.6600,0.5382)"><path d="M0.0 33.8 C0.0 30.0 0.7 23.2 2.4 18.6 C4.1 14.0 6.5 9.3 10.2 6.3 C13.9 3.3 19.2 1.8 24.5 0.7 C29.8 -0.4 35.7 -0.4 41.7 0.0 C47.7 0.4 54.0 1.2 60.6 3.0 C67.2 4.8 75.2 7.5 81.2 10.6 C87.2 13.7 93.7 18.1 96.8 21.4 C99.9 24.7 99.7 27.4 100.0 30.5 C100.3 33.5 100.0 37.2 98.4 39.7 C96.8 42.2 93.9 44.5 90.5 45.8 C87.1 47.1 81.1 46.9 78.0 47.4 C74.9 47.9 73.8 48.1 71.7 48.9 C69.6 49.7 69.0 51.0 65.3 52.0 C61.6 53.0 55.6 54.8 49.6 55.0 C43.6 55.2 35.2 54.5 29.2 53.5 C23.2 52.5 18.0 50.9 13.5 48.9 C9.0 46.9 4.7 43.7 2.4 41.2 C0.1 38.7 0.0 37.6 0.0 33.8 Z" transform="translate(0,11.15)" fill="#dfa084" stroke="#c98a70" stroke-width="1.21"/><path d="M0.3 34 L0.3 45.1 L99.7 42.1 L99.7 31 Z" fill="#dfa084"/></g><clipPath id="c7"><path d="M0.0 33.8 C0.0 30.0 0.7 23.2 2.4 18.6 C4.1 14.0 6.5 9.3 10.2 6.3 C13.9 3.3 19.2 1.8 24.5 0.7 C29.8 -0.4 35.7 -0.4 41.7 0.0 C47.7 0.4 54.0 1.2 60.6 3.0 C67.2 4.8 75.2 7.5 81.2 10.6 C87.2 13.7 93.7 18.1 96.8 21.4 C99.9 24.7 99.7 27.4 100.0 30.5 C100.3 33.5 100.0 37.2 98.4 39.7 C96.8 42.2 93.9 44.5 90.5 45.8 C87.1 47.1 81.1 46.9 78.0 47.4 C74.9 47.9 73.8 48.1 71.7 48.9 C69.6 49.7 69.0 51.0 65.3 52.0 C61.6 53.0 55.6 54.8 49.6 55.0 C43.6 55.2 35.2 54.5 29.2 53.5 C23.2 52.5 18.0 50.9 13.5 48.9 C9.0 46.9 4.7 43.7 2.4 41.2 C0.1 38.7 0.0 37.6 0.0 33.8 Z" transform="translate(158.3,524.0) scale(0.6600,0.5382) translate(0,11.15)"/></clipPath><g clip-path="url(#c7)"><line x1="161.4" y1="524" x2="161.4" y2="559.6" stroke="#6a3a2c" stroke-width="1.6" opacity="0.7"/><line x1="168.4" y1="524" x2="168.4" y2="559.6" stroke="#6a3a2c" stroke-width="1.6" opacity="0.7"/><line x1="175.4" y1="524" x2="175.4" y2="559.6" stroke="#6a3a2c" stroke-width="1.6" opacity="0.7"/><line x1="182.4" y1="524" x2="182.4" y2="559.6" stroke="#6a3a2c" stroke-width="1.6" opacity="0.7"/><line x1="189.4" y1="524" x2="189.4" y2="559.6" stroke="#6a3a2c" stroke-width="1.6" opacity="0.7"/><line x1="196.4" y1="524" x2="196.4" y2="559.6" stroke="#6a3a2c" stroke-width="1.6" opacity="0.7"/><line x1="203.4" y1="524" x2="203.4" y2="559.6" stroke="#6a3a2c" stroke-width="1.6" opacity="0.7"/><line x1="210.4" y1="524" x2="210.4" y2="559.6" stroke="#6a3a2c" stroke-width="1.6" opacity="0.7"/><line x1="217.4" y1="524" x2="217.4" y2="559.6" stroke="#6a3a2c" stroke-width="1.6" opacity="0.7"/><line x1="224.4" y1="524" x2="224.4" y2="559.6" stroke="#6a3a2c" stroke-width="1.6" opacity="0.7"/></g><g transform="translate(158.3,524.0) scale(0.6600,0.5382)"><path d="M0.0 33.8 C0.0 30.0 0.7 23.2 2.4 18.6 C4.1 14.0 6.5 9.3 10.2 6.3 C13.9 3.3 19.2 1.8 24.5 0.7 C29.8 -0.4 35.7 -0.4 41.7 0.0 C47.7 0.4 54.0 1.2 60.6 3.0 C67.2 4.8 75.2 7.5 81.2 10.6 C87.2 13.7 93.7 18.1 96.8 21.4 C99.9 24.7 99.7 27.4 100.0 30.5 C100.3 33.5 100.0 37.2 98.4 39.7 C96.8 42.2 93.9 44.5 90.5 45.8 C87.1 47.1 81.1 46.9 78.0 47.4 C74.9 47.9 73.8 48.1 71.7 48.9 C69.6 49.7 69.0 51.0 65.3 52.0 C61.6 53.0 55.6 54.8 49.6 55.0 C43.6 55.2 35.2 54.5 29.2 53.5 C23.2 52.5 18.0 50.9 13.5 48.9 C9.0 46.9 4.7 43.7 2.4 41.2 C0.1 38.7 0.0 37.6 0.0 33.8 Z" fill="#f4a5a1" stroke="#f8cabe" stroke-width="2.42"/><g fill="#f09290" opacity="0.85"><path d="M6 12 C12 6 22 5 28 7 C23 11 25 17 20 20 C14 24 9 18 3 22 C3 18 4 14 6 12 Z"/><path d="M48 4 C56 2 64 4 70 6 C65 10 67 18 62 22 C56 26 50 18 44 22 C44 14 46 8 48 4 Z"/><path d="M62 22 C70 26 76 22 82 28 C78 36 80 42 76 46 C70 46 64 46 62 46 C60 40 54 44 48 40 C54 34 58 28 62 22 Z"/><path d="M8 38 C12 42 16 40 22 40 C26 46 32 46 36 52 C24 54 12 52 6 46 C5 42 6 40 8 38 Z"/></g><path d="M3 22 C10 18 14 24 20 20 C24 16 22 10 28 7 M20 20 C22 28 16 34 22 40 C26 46 34 45 37 53 M8 38 C12 42 16 40 22 40 M44 22 C50 18 56 26 62 22 C66 18 64 10 70 6 M44 22 C46 30 42 36 48 40 C54 44 60 40 62 46 M62 22 C70 26 76 22 82 28 C86 32 92 30 97 33 M82 28 C78 36 80 42 76 46 M28 7 C34 10 40 8 48 4 M44 22 C40 18 46 12 48 4" fill="none" stroke="#f8cbbf" stroke-width="1.89"/><ellipse cx="35.4" cy="23.4" rx="8.4" ry="6.2" fill="#fbe3dc"/><ellipse cx="35.4" cy="23.4" rx="5.4" ry="3.9" fill="#c03a48" stroke="#8e2232" stroke-width="0.9"/></g><g transform="translate(127.8,552.0) scale(0.5460,0.5600)"><path d="M0.0 33.8 C0.0 30.0 0.7 23.2 2.4 18.6 C4.1 14.0 6.5 9.3 10.2 6.3 C13.9 3.3 19.2 1.8 24.5 0.7 C29.8 -0.4 35.7 -0.4 41.7 0.0 C47.7 0.4 54.0 1.2 60.6 3.0 C67.2 4.8 75.2 7.5 81.2 10.6 C87.2 13.7 93.7 18.1 96.8 21.4 C99.9 24.7 99.7 27.4 100.0 30.5 C100.3 33.5 100.0 37.2 98.4 39.7 C96.8 42.2 93.9 44.5 90.5 45.8 C87.1 47.1 81.1 46.9 78.0 47.4 C74.9 47.9 73.8 48.1 71.7 48.9 C69.6 49.7 69.0 51.0 65.3 52.0 C61.6 53.0 55.6 54.8 49.6 55.0 C43.6 55.2 35.2 54.5 29.2 53.5 C23.2 52.5 18.0 50.9 13.5 48.9 C9.0 46.9 4.7 43.7 2.4 41.2 C0.1 38.7 0.0 37.6 0.0 33.8 Z" transform="translate(0,10.71)" fill="#dfa084" stroke="#c98a70" stroke-width="1.47"/><path d="M0.3 34 L0.3 44.7 L99.7 41.7 L99.7 31 Z" fill="#dfa084"/></g><clipPath id="c8"><path d="M0.0 33.8 C0.0 30.0 0.7 23.2 2.4 18.6 C4.1 14.0 6.5 9.3 10.2 6.3 C13.9 3.3 19.2 1.8 24.5 0.7 C29.8 -0.4 35.7 -0.4 41.7 0.0 C47.7 0.4 54.0 1.2 60.6 3.0 C67.2 4.8 75.2 7.5 81.2 10.6 C87.2 13.7 93.7 18.1 96.8 21.4 C99.9 24.7 99.7 27.4 100.0 30.5 C100.3 33.5 100.0 37.2 98.4 39.7 C96.8 42.2 93.9 44.5 90.5 45.8 C87.1 47.1 81.1 46.9 78.0 47.4 C74.9 47.9 73.8 48.1 71.7 48.9 C69.6 49.7 69.0 51.0 65.3 52.0 C61.6 53.0 55.6 54.8 49.6 55.0 C43.6 55.2 35.2 54.5 29.2 53.5 C23.2 52.5 18.0 50.9 13.5 48.9 C9.0 46.9 4.7 43.7 2.4 41.2 C0.1 38.7 0.0 37.6 0.0 33.8 Z" transform="translate(127.8,552.0) scale(0.5460,0.5600) translate(0,10.71)"/></clipPath><g clip-path="url(#c8)"><line x1="126.4" y1="552" x2="126.4" y2="588.8" stroke="#6a3a2c" stroke-width="1.6" opacity="0.7"/><line x1="133.4" y1="552" x2="133.4" y2="588.8" stroke="#6a3a2c" stroke-width="1.6" opacity="0.7"/><line x1="140.4" y1="552" x2="140.4" y2="588.8" stroke="#6a3a2c" stroke-width="1.6" opacity="0.7"/><line x1="147.4" y1="552" x2="147.4" y2="588.8" stroke="#6a3a2c" stroke-width="1.6" opacity="0.7"/><line x1="154.4" y1="552" x2="154.4" y2="588.8" stroke="#6a3a2c" stroke-width="1.6" opacity="0.7"/><line x1="161.4" y1="552" x2="161.4" y2="588.8" stroke="#6a3a2c" stroke-width="1.6" opacity="0.7"/><line x1="168.4" y1="552" x2="168.4" y2="588.8" stroke="#6a3a2c" stroke-width="1.6" opacity="0.7"/><line x1="175.4" y1="552" x2="175.4" y2="588.8" stroke="#6a3a2c" stroke-width="1.6" opacity="0.7"/><line x1="182.4" y1="552" x2="182.4" y2="588.8" stroke="#6a3a2c" stroke-width="1.6" opacity="0.7"/></g><g transform="translate(127.8,552.0) scale(0.5460,0.5600)"><path d="M0.0 33.8 C0.0 30.0 0.7 23.2 2.4 18.6 C4.1 14.0 6.5 9.3 10.2 6.3 C13.9 3.3 19.2 1.8 24.5 0.7 C29.8 -0.4 35.7 -0.4 41.7 0.0 C47.7 0.4 54.0 1.2 60.6 3.0 C67.2 4.8 75.2 7.5 81.2 10.6 C87.2 13.7 93.7 18.1 96.8 21.4 C99.9 24.7 99.7 27.4 100.0 30.5 C100.3 33.5 100.0 37.2 98.4 39.7 C96.8 42.2 93.9 44.5 90.5 45.8 C87.1 47.1 81.1 46.9 78.0 47.4 C74.9 47.9 73.8 48.1 71.7 48.9 C69.6 49.7 69.0 51.0 65.3 52.0 C61.6 53.0 55.6 54.8 49.6 55.0 C43.6 55.2 35.2 54.5 29.2 53.5 C23.2 52.5 18.0 50.9 13.5 48.9 C9.0 46.9 4.7 43.7 2.4 41.2 C0.1 38.7 0.0 37.6 0.0 33.8 Z" fill="#f4a5a1" stroke="#f8cabe" stroke-width="2.93"/><g fill="#f09290" opacity="0.85"><path d="M6 12 C12 6 22 5 28 7 C23 11 25 17 20 20 C14 24 9 18 3 22 C3 18 4 14 6 12 Z"/><path d="M48 4 C56 2 64 4 70 6 C65 10 67 18 62 22 C56 26 50 18 44 22 C44 14 46 8 48 4 Z"/><path d="M62 22 C70 26 76 22 82 28 C78 36 80 42 76 46 C70 46 64 46 62 46 C60 40 54 44 48 40 C54 34 58 28 62 22 Z"/><path d="M8 38 C12 42 16 40 22 40 C26 46 32 46 36 52 C24 54 12 52 6 46 C5 42 6 40 8 38 Z"/></g><path d="M3 22 C10 18 14 24 20 20 C24 16 22 10 28 7 M20 20 C22 28 16 34 22 40 C26 46 34 45 37 53 M8 38 C12 42 16 40 22 40 M44 22 C50 18 56 26 62 22 C66 18 64 10 70 6 M44 22 C46 30 42 36 48 40 C54 44 60 40 62 46 M62 22 C70 26 76 22 82 28 C86 32 92 30 97 33 M82 28 C78 36 80 42 76 46 M28 7 C34 10 40 8 48 4 M44 22 C40 18 46 12 48 4" fill="none" stroke="#f8cbbf" stroke-width="2.29"/><ellipse cx="35.4" cy="23.4" rx="8.4" ry="6.2" fill="#fbe3dc"/><ellipse cx="35.4" cy="23.4" rx="5.4" ry="3.9" fill="#c03a48" stroke="#8e2232" stroke-width="0.9"/></g><g transform="translate(185.0,555.8) scale(0.6100,0.5945)"><path d="M0.0 33.8 C0.0 30.0 0.7 23.2 2.4 18.6 C4.1 14.0 6.5 9.3 10.2 6.3 C13.9 3.3 19.2 1.8 24.5 0.7 C29.8 -0.4 35.7 -0.4 41.7 0.0 C47.7 0.4 54.0 1.2 60.6 3.0 C67.2 4.8 75.2 7.5 81.2 10.6 C87.2 13.7 93.7 18.1 96.8 21.4 C99.9 24.7 99.7 27.4 100.0 30.5 C100.3 33.5 100.0 37.2 98.4 39.7 C96.8 42.2 93.9 44.5 90.5 45.8 C87.1 47.1 81.1 46.9 78.0 47.4 C74.9 47.9 73.8 48.1 71.7 48.9 C69.6 49.7 69.0 51.0 65.3 52.0 C61.6 53.0 55.6 54.8 49.6 55.0 C43.6 55.2 35.2 54.5 29.2 53.5 C23.2 52.5 18.0 50.9 13.5 48.9 C9.0 46.9 4.7 43.7 2.4 41.2 C0.1 38.7 0.0 37.6 0.0 33.8 Z" transform="translate(0,10.93)" fill="#dfa084" stroke="#c98a70" stroke-width="1.31"/><path d="M0.3 34 L0.3 44.9 L99.7 41.9 L99.7 31 Z" fill="#dfa084"/></g><clipPath id="c9"><path d="M0.0 33.8 C0.0 30.0 0.7 23.2 2.4 18.6 C4.1 14.0 6.5 9.3 10.2 6.3 C13.9 3.3 19.2 1.8 24.5 0.7 C29.8 -0.4 35.7 -0.4 41.7 0.0 C47.7 0.4 54.0 1.2 60.6 3.0 C67.2 4.8 75.2 7.5 81.2 10.6 C87.2 13.7 93.7 18.1 96.8 21.4 C99.9 24.7 99.7 27.4 100.0 30.5 C100.3 33.5 100.0 37.2 98.4 39.7 C96.8 42.2 93.9 44.5 90.5 45.8 C87.1 47.1 81.1 46.9 78.0 47.4 C74.9 47.9 73.8 48.1 71.7 48.9 C69.6 49.7 69.0 51.0 65.3 52.0 C61.6 53.0 55.6 54.8 49.6 55.0 C43.6 55.2 35.2 54.5 29.2 53.5 C23.2 52.5 18.0 50.9 13.5 48.9 C9.0 46.9 4.7 43.7 2.4 41.2 C0.1 38.7 0.0 37.6 0.0 33.8 Z" transform="translate(185.0,555.8) scale(0.6100,0.5945) translate(0,10.93)"/></clipPath><g clip-path="url(#c9)"><line x1="189.4" y1="555.8" x2="189.4" y2="595.0" stroke="#6a3a2c" stroke-width="1.6" opacity="0.7"/><line x1="196.4" y1="555.8" x2="196.4" y2="595.0" stroke="#6a3a2c" stroke-width="1.6" opacity="0.7"/><line x1="203.4" y1="555.8" x2="203.4" y2="595.0" stroke="#6a3a2c" stroke-width="1.6" opacity="0.7"/><line x1="210.4" y1="555.8" x2="210.4" y2="595.0" stroke="#6a3a2c" stroke-width="1.6" opacity="0.7"/><line x1="217.4" y1="555.8" x2="217.4" y2="595.0" stroke="#6a3a2c" stroke-width="1.6" opacity="0.7"/><line x1="224.4" y1="555.8" x2="224.4" y2="595.0" stroke="#6a3a2c" stroke-width="1.6" opacity="0.7"/><line x1="231.4" y1="555.8" x2="231.4" y2="595.0" stroke="#6a3a2c" stroke-width="1.6" opacity="0.7"/><line x1="238.4" y1="555.8" x2="238.4" y2="595.0" stroke="#6a3a2c" stroke-width="1.6" opacity="0.7"/><line x1="245.4" y1="555.8" x2="245.4" y2="595.0" stroke="#6a3a2c" stroke-width="1.6" opacity="0.7"/></g><g transform="translate(185.0,555.8) scale(0.6100,0.5945)"><path d="M0.0 33.8 C0.0 30.0 0.7 23.2 2.4 18.6 C4.1 14.0 6.5 9.3 10.2 6.3 C13.9 3.3 19.2 1.8 24.5 0.7 C29.8 -0.4 35.7 -0.4 41.7 0.0 C47.7 0.4 54.0 1.2 60.6 3.0 C67.2 4.8 75.2 7.5 81.2 10.6 C87.2 13.7 93.7 18.1 96.8 21.4 C99.9 24.7 99.7 27.4 100.0 30.5 C100.3 33.5 100.0 37.2 98.4 39.7 C96.8 42.2 93.9 44.5 90.5 45.8 C87.1 47.1 81.1 46.9 78.0 47.4 C74.9 47.9 73.8 48.1 71.7 48.9 C69.6 49.7 69.0 51.0 65.3 52.0 C61.6 53.0 55.6 54.8 49.6 55.0 C43.6 55.2 35.2 54.5 29.2 53.5 C23.2 52.5 18.0 50.9 13.5 48.9 C9.0 46.9 4.7 43.7 2.4 41.2 C0.1 38.7 0.0 37.6 0.0 33.8 Z" fill="#f4a5a1" stroke="#f8cabe" stroke-width="2.62"/><g fill="#f09290" opacity="0.85"><path d="M6 12 C12 6 22 5 28 7 C23 11 25 17 20 20 C14 24 9 18 3 22 C3 18 4 14 6 12 Z"/><path d="M48 4 C56 2 64 4 70 6 C65 10 67 18 62 22 C56 26 50 18 44 22 C44 14 46 8 48 4 Z"/><path d="M62 22 C70 26 76 22 82 28 C78 36 80 42 76 46 C70 46 64 46 62 46 C60 40 54 44 48 40 C54 34 58 28 62 22 Z"/><path d="M8 38 C12 42 16 40 22 40 C26 46 32 46 36 52 C24 54 12 52 6 46 C5 42 6 40 8 38 Z"/></g><path d="M3 22 C10 18 14 24 20 20 C24 16 22 10 28 7 M20 20 C22 28 16 34 22 40 C26 46 34 45 37 53 M8 38 C12 42 16 40 22 40 M44 22 C50 18 56 26 62 22 C66 18 64 10 70 6 M44 22 C46 30 42 36 48 40 C54 44 60 40 62 46 M62 22 C70 26 76 22 82 28 C86 32 92 30 97 33 M82 28 C78 36 80 42 76 46 M28 7 C34 10 40 8 48 4 M44 22 C40 18 46 12 48 4" fill="none" stroke="#f8cbbf" stroke-width="2.05"/><ellipse cx="35.4" cy="23.4" rx="8.4" ry="6.2" fill="#fbe3dc"/><ellipse cx="35.4" cy="23.4" rx="5.4" ry="3.9" fill="#c03a48" stroke="#8e2232" stroke-width="0.9"/></g><path d="M112.4 559.6 A76.1 45.0 0 0 0 264.6 559.6 L264.6 631.6 A76.1 39.4 0 0 1 112.4 631.6 Z" fill="#fff" stroke="none"/><path d="M112.4 559.6 L112.4 631.6 A76.1 39.4 0 0 0 264.6 631.6 L264.6 559.6" fill="none" stroke="#262626" stroke-width="1.4"/><path d="M112.4 559.6 A76.1 45.0 0 0 0 264.6 559.6" fill="none" stroke="#262626" stroke-width="1.4"/><path d="M114.9 559.6 A73.6 42.5 0 0 0 262.1 559.6" fill="none" stroke="#333" stroke-width="1.15"/><g fill="#263028"><rect x="185.5" y="517" width="5" height="4" rx="1"/></g><path d="M159.6 614.1 Q159.6 611.6 162.1 611.6 Q188.1 616.6 214.1 611.6 Q216.6 611.6 216.6 614.1 L216.6 648.5 Q216.6 651.0 214.1 651.0 Q188.1 657.0 162.1 651.0 Q159.6 651.0 159.6 648.5 Z" fill="none" stroke="#55a06c" stroke-width="1.3"/><line x1="159.0" y1="616.3" x2="159.0" y2="646.3" stroke="#2a5e3c" stroke-width="2"/><circle cx="162.1" cy="618.3" r="1" fill="#222"/><circle cx="162.1" cy="643.9" r="1" fill="#222"/><rect x="208.5" y="627.3000000000001" width="4.2" height="10.5" rx="2.1" fill="none" stroke="#55a06c" stroke-width="1.1"/><circle cx="210.6" cy="629.1" r="1.9" fill="none" stroke="#2a2a2a" stroke-width="1.2"/><circle cx="122.3" cy="587.5" r="1.8" fill="#141414"/><circle cx="256.0" cy="587.5" r="1.8" fill="#141414"/><circle cx="122.2" cy="636.8" r="1.8" fill="#141414"/><circle cx="122.2" cy="643.7" r="1.8" fill="#141414"/><circle cx="255.4" cy="636.8" r="1.8" fill="#141414"/><circle cx="255.4" cy="643.7" r="1.8" fill="#141414"/><path d="M487.7 669.0 L487.7 703.0 L491.0 708.3 L496.2 707.0 L498.7 676.2 Z" fill="#fbfbfb" stroke="none"/><path d="M494.1 673.2 L494.1 694.0 L497.8 693.0 L498.1 673.2 Z" fill="#707070"/><line x1="491.0" y1="671.0" x2="491.0" y2="706.0" stroke="#9a9a9a" stroke-width="1.1"/><line x1="493.2" y1="673.0" x2="493.2" y2="706.0" stroke="#c4c4c4" stroke-width="0.9"/><path d="M487.7 669.0 L487.7 703.0 L491.0 708.3 L496.2 707.0 L498.7 676.2" fill="none" stroke="#262626" stroke-width="1.3" stroke-linejoin="round"/><path d="M599.5 669.5 L599.5 703.0 L596.2 708.3 L591.0 707.0 L588.5 675.8 Z" fill="#fbfbfb" stroke="none"/><path d="M593.1 672.8 L593.1 694.0 L589.4 693.0 L589.1 672.8 Z" fill="#707070"/><line x1="596.2" y1="671.5" x2="596.2" y2="706.0" stroke="#9a9a9a" stroke-width="1.1"/><line x1="594.0" y1="673.5" x2="594.0" y2="706.0" stroke="#c4c4c4" stroke-width="0.9"/><path d="M599.5 669.5 L599.5 703.0 L596.2 708.3 L591.0 707.0 L588.5 675.8" fill="none" stroke="#262626" stroke-width="1.3" stroke-linejoin="round"/><path d="M507.6 434.9 C508.6 432.3 511.1 423.9 513.4 419.3 C515.7 414.8 518.0 410.7 521.2 407.6 C524.5 404.5 528.4 402.2 533.0 400.7 C537.6 399.2 542.8 398.6 548.6 398.8 C554.4 399.0 561.5 399.9 568.0 401.7 C574.5 403.5 581.2 405.9 587.7 409.5 C594.2 413.1 601.7 418.3 607.2 423.2 C612.7 428.1 617.6 433.6 620.9 438.8 C624.1 444.0 626.1 449.9 626.7 454.5 C627.4 459.1 625.9 462.6 624.8 466.2 C623.7 469.8 620.7 474.4 619.9 476.0 L558.2 466.9 Z" fill="#fff" stroke="none"/><path d="M507.6 434.9 C508.6 432.3 511.1 423.9 513.4 419.3 C515.7 414.8 518.0 410.7 521.2 407.6 C524.5 404.5 528.4 402.2 533.0 400.7 C537.6 399.2 542.8 398.6 548.6 398.8 C554.4 399.0 561.5 399.9 568.0 401.7 C574.5 403.5 581.2 405.9 587.7 409.5 C594.2 413.1 601.7 418.3 607.2 423.2 C612.7 428.1 617.6 433.6 620.9 438.8 C624.1 444.0 626.1 449.9 626.7 454.5 C627.4 459.1 625.9 462.6 624.8 466.2 C623.7 469.8 620.7 474.4 619.9 476.0" fill="none" stroke="#2e2e2e" stroke-width="1.3"/><path d="M515.4 414.4 C517.7 413.4 523.8 409.9 529.0 408.6 C534.2 407.3 540.1 406.5 546.6 406.6 C553.1 406.8 561.1 407.9 568.0 409.5 C574.9 411.1 581.2 413.1 587.7 416.4 C594.2 419.6 601.7 424.3 607.2 429.0 C612.7 433.7 618.0 440.1 620.9 444.7 C623.8 449.3 624.1 454.4 624.8 456.4" fill="none" stroke="#666" stroke-width="1"/><line x1="543.7" y1="406.6" x2="547.6" y2="399.8" stroke="#555" stroke-width="0.9"/><circle cx="599.4" cy="413.4" r="1.5" fill="#6fb37f"/><ellipse cx="558.2" cy="466.9" rx="63.7" ry="32.0" transform="rotate(21.3 558.2 466.9)" fill="#fff" stroke="#2a2a2a" stroke-width="1.35"/><ellipse cx="557.9" cy="466.0" rx="61.8" ry="30.1" transform="rotate(21.3 558.2 466.9)" fill="none" stroke="#555" stroke-width="0.95"/><ellipse cx="557.6" cy="465.2" rx="60.2" ry="28.5" transform="rotate(21.3 558.2 466.9)" fill="none" stroke="#8a8a8a" stroke-width="0.8"/><path d="M480.4 541.7 L470 542.2 C465.5 543 464 547 464 551 L464 556 C464 562 467 566 472 566.5 L480.4 567" fill="#fff" stroke="#2a2a2a" stroke-width="1.3"/><path d="M480.4 549.5 L473 549.5 C469.5 549.5 468.5 551.5 468.5 553.5 C468.5 556 470 558 474 558 L480.4 558" fill="none" stroke="#2a2a2a" stroke-width="1.3"/><path d="M480.4 544.8 L470.5 545 C467.5 545.5 466.3 548 466.2 551" fill="none" stroke="#555" stroke-width="0.9"/><path d="M466.2 556.5 C466.5 559.5 468.5 561 472.5 561.2 L480.4 561.2" fill="none" stroke="#555" stroke-width="0.9"/><g transform="translate(1087.2,0) scale(-1,1)"><path d="M480.4 541.7 L470 542.2 C465.5 543 464 547 464 551 L464 556 C464 562 467 566 472 566.5 L480.4 567" fill="#fff" stroke="#2a2a2a" stroke-width="1.3"/><path d="M480.4 549.5 L473 549.5 C469.5 549.5 468.5 551.5 468.5 553.5 C468.5 556 470 558 474 558 L480.4 558" fill="none" stroke="#2a2a2a" stroke-width="1.3"/><path d="M480.4 544.8 L470.5 545 C467.5 545.5 466.3 548 466.2 551" fill="none" stroke="#555" stroke-width="0.9"/><path d="M466.2 556.5 C466.5 559.5 468.5 561 472.5 561.2 L480.4 561.2" fill="none" stroke="#555" stroke-width="0.9"/></g><path d="M480.5 541.7 A63.1 35.3 0 0 1 606.7 541.7" fill="none" stroke="#262626" stroke-width="1.4"/><path d="M483.0 541.7 A60.6 32.8 0 0 1 604.2 541.7" fill="none" stroke="#333" stroke-width="1.15"/><clipPath id="c10"><ellipse cx="544.8" cy="546" rx="57" ry="28"/></clipPath><g clip-path="url(#c10)"><path d="M489.79999999999995 549 A55 19.6 0 0 1 599.8 549" fill="none" stroke="#333" stroke-width="1.1"/><path d="M492.79999999999995 553 A52 17.4 0 0 1 596.8 553" fill="none" stroke="#666" stroke-width="0.9"/><line x1="493.6" y1="518" x2="493.6" y2="574" stroke="#141414" stroke-width="2.1"/><line x1="500.0" y1="518" x2="500.0" y2="574" stroke="#141414" stroke-width="2.1"/><line x1="506.4" y1="518" x2="506.4" y2="574" stroke="#141414" stroke-width="2.1"/><line x1="512.8" y1="518" x2="512.8" y2="574" stroke="#141414" stroke-width="2.1"/><line x1="519.2" y1="518" x2="519.2" y2="574" stroke="#141414" stroke-width="2.1"/><line x1="525.6" y1="518" x2="525.6" y2="574" stroke="#141414" stroke-width="2.1"/><line x1="532.0" y1="518" x2="532.0" y2="574" stroke="#141414" stroke-width="2.1"/><line x1="538.4" y1="518" x2="538.4" y2="574" stroke="#141414" stroke-width="2.1"/><line x1="544.8" y1="518" x2="544.8" y2="574" stroke="#141414" stroke-width="2.1"/><line x1="551.2" y1="518" x2="551.2" y2="574" stroke="#141414" stroke-width="2.1"/><line x1="557.6" y1="518" x2="557.6" y2="574" stroke="#141414" stroke-width="2.1"/><line x1="564.0" y1="518" x2="564.0" y2="574" stroke="#141414" stroke-width="2.1"/><line x1="570.4" y1="518" x2="570.4" y2="574" stroke="#141414" stroke-width="2.1"/><line x1="576.8" y1="518" x2="576.8" y2="574" stroke="#141414" stroke-width="2.1"/><line x1="583.2" y1="518" x2="583.2" y2="574" stroke="#141414" stroke-width="2.1"/><line x1="589.6" y1="518" x2="589.6" y2="574" stroke="#141414" stroke-width="2.1"/><line x1="596.0" y1="518" x2="596.0" y2="574" stroke="#141414" stroke-width="2.1"/><line x1="487.79999999999995" y1="541.0" x2="601.8" y2="541.0" stroke="#141414" stroke-width="1.4"/><line x1="487.79999999999995" y1="549.0" x2="601.8" y2="549.0" stroke="#141414" stroke-width="1.4"/><line x1="487.79999999999995" y1="557.0" x2="601.8" y2="557.0" stroke="#141414" stroke-width="1.4"/></g><ellipse cx="544.8" cy="546" rx="57" ry="28" fill="none" stroke="#141414" stroke-width="2.0"/><path d="M490 532 L490 541" stroke="#1a1a1a" stroke-width="2.6" stroke-linecap="round"/><circle cx="490" cy="532" r="2.3" fill="#fff" stroke="#1a1a1a" stroke-width="1.5"/><path d="M599.6 532 L599.6 541" stroke="#1a1a1a" stroke-width="2.6" stroke-linecap="round"/><circle cx="599.6" cy="532" r="2.3" fill="#fff" stroke="#1a1a1a" stroke-width="1.5"/><g transform="translate(510.8,512.0) scale(0.5300,0.4291)"><path d="M0.0 33.8 C0.0 30.0 0.7 23.2 2.4 18.6 C4.1 14.0 6.5 9.3 10.2 6.3 C13.9 3.3 19.2 1.8 24.5 0.7 C29.8 -0.4 35.7 -0.4 41.7 0.0 C47.7 0.4 54.0 1.2 60.6 3.0 C67.2 4.8 75.2 7.5 81.2 10.6 C87.2 13.7 93.7 18.1 96.8 21.4 C99.9 24.7 99.7 27.4 100.0 30.5 C100.3 33.5 100.0 37.2 98.4 39.7 C96.8 42.2 93.9 44.5 90.5 45.8 C87.1 47.1 81.1 46.9 78.0 47.4 C74.9 47.9 73.8 48.1 71.7 48.9 C69.6 49.7 69.0 51.0 65.3 52.0 C61.6 53.0 55.6 54.8 49.6 55.0 C43.6 55.2 35.2 54.5 29.2 53.5 C23.2 52.5 18.0 50.9 13.5 48.9 C9.0 46.9 4.7 43.7 2.4 41.2 C0.1 38.7 0.0 37.6 0.0 33.8 Z" transform="translate(0,11.65)" fill="#dfa084" stroke="#c98a70" stroke-width="1.51"/><path d="M0.3 34 L0.3 45.7 L99.7 42.7 L99.7 31 Z" fill="#dfa084"/></g><clipPath id="c11"><path d="M0.0 33.8 C0.0 30.0 0.7 23.2 2.4 18.6 C4.1 14.0 6.5 9.3 10.2 6.3 C13.9 3.3 19.2 1.8 24.5 0.7 C29.8 -0.4 35.7 -0.4 41.7 0.0 C47.7 0.4 54.0 1.2 60.6 3.0 C67.2 4.8 75.2 7.5 81.2 10.6 C87.2 13.7 93.7 18.1 96.8 21.4 C99.9 24.7 99.7 27.4 100.0 30.5 C100.3 33.5 100.0 37.2 98.4 39.7 C96.8 42.2 93.9 44.5 90.5 45.8 C87.1 47.1 81.1 46.9 78.0 47.4 C74.9 47.9 73.8 48.1 71.7 48.9 C69.6 49.7 69.0 51.0 65.3 52.0 C61.6 53.0 55.6 54.8 49.6 55.0 C43.6 55.2 35.2 54.5 29.2 53.5 C23.2 52.5 18.0 50.9 13.5 48.9 C9.0 46.9 4.7 43.7 2.4 41.2 C0.1 38.7 0.0 37.6 0.0 33.8 Z" transform="translate(510.8,512.0) scale(0.5300,0.4291) translate(0,11.65)"/></clipPath><g clip-path="url(#c11)"><line x1="512.8" y1="512" x2="512.8" y2="540.6" stroke="#6a3a2c" stroke-width="1.6" opacity="0.7"/><line x1="519.2" y1="512" x2="519.2" y2="540.6" stroke="#6a3a2c" stroke-width="1.6" opacity="0.7"/><line x1="525.6" y1="512" x2="525.6" y2="540.6" stroke="#6a3a2c" stroke-width="1.6" opacity="0.7"/><line x1="532.0" y1="512" x2="532.0" y2="540.6" stroke="#6a3a2c" stroke-width="1.6" opacity="0.7"/><line x1="538.4" y1="512" x2="538.4" y2="540.6" stroke="#6a3a2c" stroke-width="1.6" opacity="0.7"/><line x1="544.8" y1="512" x2="544.8" y2="540.6" stroke="#6a3a2c" stroke-width="1.6" opacity="0.7"/><line x1="551.2" y1="512" x2="551.2" y2="540.6" stroke="#6a3a2c" stroke-width="1.6" opacity="0.7"/><line x1="557.6" y1="512" x2="557.6" y2="540.6" stroke="#6a3a2c" stroke-width="1.6" opacity="0.7"/><line x1="564.0" y1="512" x2="564.0" y2="540.6" stroke="#6a3a2c" stroke-width="1.6" opacity="0.7"/></g><g transform="translate(510.8,512.0) scale(0.5300,0.4291)"><path d="M0.0 33.8 C0.0 30.0 0.7 23.2 2.4 18.6 C4.1 14.0 6.5 9.3 10.2 6.3 C13.9 3.3 19.2 1.8 24.5 0.7 C29.8 -0.4 35.7 -0.4 41.7 0.0 C47.7 0.4 54.0 1.2 60.6 3.0 C67.2 4.8 75.2 7.5 81.2 10.6 C87.2 13.7 93.7 18.1 96.8 21.4 C99.9 24.7 99.7 27.4 100.0 30.5 C100.3 33.5 100.0 37.2 98.4 39.7 C96.8 42.2 93.9 44.5 90.5 45.8 C87.1 47.1 81.1 46.9 78.0 47.4 C74.9 47.9 73.8 48.1 71.7 48.9 C69.6 49.7 69.0 51.0 65.3 52.0 C61.6 53.0 55.6 54.8 49.6 55.0 C43.6 55.2 35.2 54.5 29.2 53.5 C23.2 52.5 18.0 50.9 13.5 48.9 C9.0 46.9 4.7 43.7 2.4 41.2 C0.1 38.7 0.0 37.6 0.0 33.8 Z" fill="#f4a5a1" stroke="#f8cabe" stroke-width="3.02"/><g fill="#f09290" opacity="0.85"><path d="M6 12 C12 6 22 5 28 7 C23 11 25 17 20 20 C14 24 9 18 3 22 C3 18 4 14 6 12 Z"/><path d="M48 4 C56 2 64 4 70 6 C65 10 67 18 62 22 C56 26 50 18 44 22 C44 14 46 8 48 4 Z"/><path d="M62 22 C70 26 76 22 82 28 C78 36 80 42 76 46 C70 46 64 46 62 46 C60 40 54 44 48 40 C54 34 58 28 62 22 Z"/><path d="M8 38 C12 42 16 40 22 40 C26 46 32 46 36 52 C24 54 12 52 6 46 C5 42 6 40 8 38 Z"/></g><path d="M3 22 C10 18 14 24 20 20 C24 16 22 10 28 7 M20 20 C22 28 16 34 22 40 C26 46 34 45 37 53 M8 38 C12 42 16 40 22 40 M44 22 C50 18 56 26 62 22 C66 18 64 10 70 6 M44 22 C46 30 42 36 48 40 C54 44 60 40 62 46 M62 22 C70 26 76 22 82 28 C86 32 92 30 97 33 M82 28 C78 36 80 42 76 46 M28 7 C34 10 40 8 48 4 M44 22 C40 18 46 12 48 4" fill="none" stroke="#f8cbbf" stroke-width="2.36"/><ellipse cx="35.4" cy="23.4" rx="8.4" ry="6.2" fill="#fbe3dc"/><ellipse cx="35.4" cy="23.4" rx="5.4" ry="3.9" fill="#c03a48" stroke="#8e2232" stroke-width="0.9"/></g><g transform="translate(532.5,538.3) scale(0.4900,0.4800)"><path d="M0.0 33.8 C0.0 30.0 0.7 23.2 2.4 18.6 C4.1 14.0 6.5 9.3 10.2 6.3 C13.9 3.3 19.2 1.8 24.5 0.7 C29.8 -0.4 35.7 -0.4 41.7 0.0 C47.7 0.4 54.0 1.2 60.6 3.0 C67.2 4.8 75.2 7.5 81.2 10.6 C87.2 13.7 93.7 18.1 96.8 21.4 C99.9 24.7 99.7 27.4 100.0 30.5 C100.3 33.5 100.0 37.2 98.4 39.7 C96.8 42.2 93.9 44.5 90.5 45.8 C87.1 47.1 81.1 46.9 78.0 47.4 C74.9 47.9 73.8 48.1 71.7 48.9 C69.6 49.7 69.0 51.0 65.3 52.0 C61.6 53.0 55.6 54.8 49.6 55.0 C43.6 55.2 35.2 54.5 29.2 53.5 C23.2 52.5 18.0 50.9 13.5 48.9 C9.0 46.9 4.7 43.7 2.4 41.2 C0.1 38.7 0.0 37.6 0.0 33.8 Z" transform="translate(0,11.46)" fill="#dfa084" stroke="#c98a70" stroke-width="1.63"/><path d="M0.3 34 L0.3 45.5 L99.7 42.5 L99.7 31 Z" fill="#dfa084"/></g><clipPath id="c12"><path d="M0.0 33.8 C0.0 30.0 0.7 23.2 2.4 18.6 C4.1 14.0 6.5 9.3 10.2 6.3 C13.9 3.3 19.2 1.8 24.5 0.7 C29.8 -0.4 35.7 -0.4 41.7 0.0 C47.7 0.4 54.0 1.2 60.6 3.0 C67.2 4.8 75.2 7.5 81.2 10.6 C87.2 13.7 93.7 18.1 96.8 21.4 C99.9 24.7 99.7 27.4 100.0 30.5 C100.3 33.5 100.0 37.2 98.4 39.7 C96.8 42.2 93.9 44.5 90.5 45.8 C87.1 47.1 81.1 46.9 78.0 47.4 C74.9 47.9 73.8 48.1 71.7 48.9 C69.6 49.7 69.0 51.0 65.3 52.0 C61.6 53.0 55.6 54.8 49.6 55.0 C43.6 55.2 35.2 54.5 29.2 53.5 C23.2 52.5 18.0 50.9 13.5 48.9 C9.0 46.9 4.7 43.7 2.4 41.2 C0.1 38.7 0.0 37.6 0.0 33.8 Z" transform="translate(532.5,538.3) scale(0.4900,0.4800) translate(0,11.46)"/></clipPath><g clip-path="url(#c12)"><line x1="532.0" y1="538.3" x2="532.0" y2="570.1999999999999" stroke="#6a3a2c" stroke-width="1.6" opacity="0.7"/><line x1="538.4" y1="538.3" x2="538.4" y2="570.1999999999999" stroke="#6a3a2c" stroke-width="1.6" opacity="0.7"/><line x1="544.8" y1="538.3" x2="544.8" y2="570.1999999999999" stroke="#6a3a2c" stroke-width="1.6" opacity="0.7"/><line x1="551.2" y1="538.3" x2="551.2" y2="570.1999999999999" stroke="#6a3a2c" stroke-width="1.6" opacity="0.7"/><line x1="557.6" y1="538.3" x2="557.6" y2="570.1999999999999" stroke="#6a3a2c" stroke-width="1.6" opacity="0.7"/><line x1="564.0" y1="538.3" x2="564.0" y2="570.1999999999999" stroke="#6a3a2c" stroke-width="1.6" opacity="0.7"/><line x1="570.4" y1="538.3" x2="570.4" y2="570.1999999999999" stroke="#6a3a2c" stroke-width="1.6" opacity="0.7"/><line x1="576.8" y1="538.3" x2="576.8" y2="570.1999999999999" stroke="#6a3a2c" stroke-width="1.6" opacity="0.7"/><line x1="583.2" y1="538.3" x2="583.2" y2="570.1999999999999" stroke="#6a3a2c" stroke-width="1.6" opacity="0.7"/></g><g transform="translate(532.5,538.3) scale(0.4900,0.4800)"><path d="M0.0 33.8 C0.0 30.0 0.7 23.2 2.4 18.6 C4.1 14.0 6.5 9.3 10.2 6.3 C13.9 3.3 19.2 1.8 24.5 0.7 C29.8 -0.4 35.7 -0.4 41.7 0.0 C47.7 0.4 54.0 1.2 60.6 3.0 C67.2 4.8 75.2 7.5 81.2 10.6 C87.2 13.7 93.7 18.1 96.8 21.4 C99.9 24.7 99.7 27.4 100.0 30.5 C100.3 33.5 100.0 37.2 98.4 39.7 C96.8 42.2 93.9 44.5 90.5 45.8 C87.1 47.1 81.1 46.9 78.0 47.4 C74.9 47.9 73.8 48.1 71.7 48.9 C69.6 49.7 69.0 51.0 65.3 52.0 C61.6 53.0 55.6 54.8 49.6 55.0 C43.6 55.2 35.2 54.5 29.2 53.5 C23.2 52.5 18.0 50.9 13.5 48.9 C9.0 46.9 4.7 43.7 2.4 41.2 C0.1 38.7 0.0 37.6 0.0 33.8 Z" fill="#f4a5a1" stroke="#f8cabe" stroke-width="3.27"/><g fill="#f09290" opacity="0.85"><path d="M6 12 C12 6 22 5 28 7 C23 11 25 17 20 20 C14 24 9 18 3 22 C3 18 4 14 6 12 Z"/><path d="M48 4 C56 2 64 4 70 6 C65 10 67 18 62 22 C56 26 50 18 44 22 C44 14 46 8 48 4 Z"/><path d="M62 22 C70 26 76 22 82 28 C78 36 80 42 76 46 C70 46 64 46 62 46 C60 40 54 44 48 40 C54 34 58 28 62 22 Z"/><path d="M8 38 C12 42 16 40 22 40 C26 46 32 46 36 52 C24 54 12 52 6 46 C5 42 6 40 8 38 Z"/></g><path d="M3 22 C10 18 14 24 20 20 C24 16 22 10 28 7 M20 20 C22 28 16 34 22 40 C26 46 34 45 37 53 M8 38 C12 42 16 40 22 40 M44 22 C50 18 56 26 62 22 C66 18 64 10 70 6 M44 22 C46 30 42 36 48 40 C54 44 60 40 62 46 M62 22 C70 26 76 22 82 28 C86 32 92 30 97 33 M82 28 C78 36 80 42 76 46 M28 7 C34 10 40 8 48 4 M44 22 C40 18 46 12 48 4" fill="none" stroke="#f8cbbf" stroke-width="2.55"/><ellipse cx="35.4" cy="23.4" rx="8.4" ry="6.2" fill="#fbe3dc"/><ellipse cx="35.4" cy="23.4" rx="5.4" ry="3.9" fill="#c03a48" stroke="#8e2232" stroke-width="0.9"/></g><path d="M480.5 541.7 A63.1 35.3 0 0 0 606.7 541.7 L606.7 654.5 A63.1 31 0 0 1 480.5 654.5 Z" fill="#fff" stroke="none"/><path d="M480.5 541.7 L480.5 654.5 A63.1 31 0 0 0 606.7 654.5 L606.7 541.7" fill="none" stroke="#262626" stroke-width="1.4"/><path d="M480.5 541.7 A63.1 35.3 0 0 0 606.7 541.7" fill="none" stroke="#262626" stroke-width="1.4"/><path d="M483.0 541.7 A60.6 32.8 0 0 0 604.2 541.7" fill="none" stroke="#333" stroke-width="1.15"/><path d="M480.5 594 A63.1 35.5 0 0 0 606.7 594" fill="none" stroke="#1e1e1e" stroke-width="1.9"/><g fill="#263028"><rect x="540" y="509" width="5" height="4" rx="1"/></g><path d="M518.8 588.6 Q518.8 586.1 521.3 586.1 Q542.6999999999999 590.1 564.0999999999999 586.1 Q566.5999999999999 586.1 566.5999999999999 588.6 L566.5999999999999 616.7 Q566.5999999999999 619.2 564.0999999999999 619.2 Q542.6999999999999 623.2 521.3 619.2 Q518.8 619.2 518.8 616.7 Z" fill="none" stroke="#55a06c" stroke-width="1.3"/><line x1="518.1999999999999" y1="590.1" x2="518.1999999999999" y2="615.2" stroke="#2a5e3c" stroke-width="2"/><circle cx="521.3" cy="591.7" r="1" fill="#222"/><circle cx="521.3" cy="613.2" r="1" fill="#222"/><rect x="558.4999999999999" y="598.65" width="4.2" height="10.5" rx="2.1" fill="none" stroke="#55a06c" stroke-width="1.1"/><circle cx="560.5999999999999" cy="600.4499999999999" r="1.9" fill="none" stroke="#2a2a2a" stroke-width="1.2"/><path d="M518.8 641.2 Q518.8 638.7 521.3 638.7 Q542.6999999999999 642.7 564.0999999999999 638.7 Q566.5999999999999 638.7 566.5999999999999 641.2 L566.5999999999999 667.2 Q566.5999999999999 669.7 564.0999999999999 669.7 Q542.6999999999999 674.7 521.3 669.7 Q518.8 669.7 518.8 667.2 Z" fill="none" stroke="#55a06c" stroke-width="1.3"/><line x1="518.1999999999999" y1="642.4" x2="518.1999999999999" y2="666.0" stroke="#2a5e3c" stroke-width="2"/><circle cx="521.3" cy="644.0" r="1" fill="#222"/><circle cx="521.3" cy="664.1" r="1" fill="#222"/><rect x="558.4999999999999" y="650.2" width="4.2" height="10.5" rx="2.1" fill="none" stroke="#55a06c" stroke-width="1.1"/><circle cx="560.5999999999999" cy="652.0" r="1.9" fill="none" stroke="#2a2a2a" stroke-width="1.2"/><circle cx="488.7" cy="566.8" r="1.8" fill="#141414"/><circle cx="598.0" cy="566.8" r="1.8" fill="#141414"/><circle cx="488.7" cy="619.2" r="1.8" fill="#141414"/><circle cx="598.0" cy="619.2" r="1.8" fill="#141414"/><circle cx="489.0" cy="658.5" r="1.8" fill="#141414"/><circle cx="489.0" cy="664.4" r="1.8" fill="#141414"/><circle cx="597.8" cy="658.5" r="1.8" fill="#141414"/><circle cx="597.8" cy="664.4" r="1.8" fill="#141414"/>
</svg>
<div class="t" id="title">MULTIFUNCTIONAL SMOKER</div>
<div class="t lab" style="left:115px;top:320px">1.As a heater</div>
<div class="t lab" style="left:395.5px;top:320px">2.Single layer barbecue</div>
<div class="t lab" style="left:44.5px;top:714px">3.Single layer smoked</div>
<div class="t lab" style="left:392px;top:714px">4.Multi-layered smoked</div>
</body></html>
